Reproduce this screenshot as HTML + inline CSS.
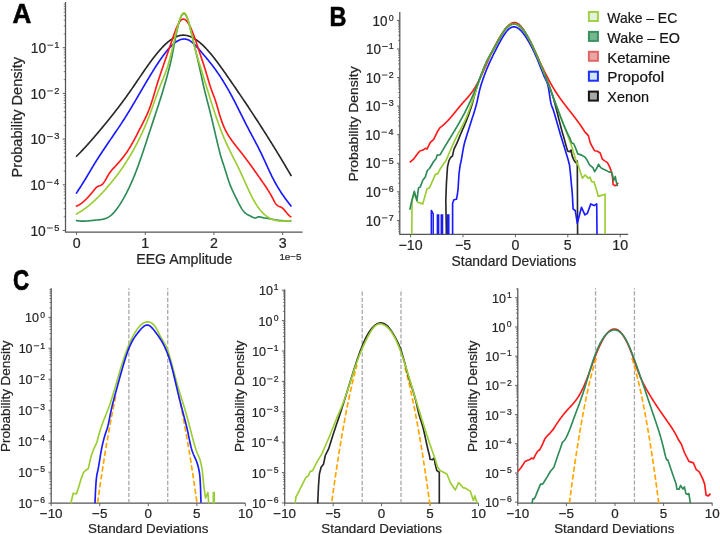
<!DOCTYPE html>
<html><head><meta charset="utf-8"><style>
html,body{margin:0;padding:0;background:#fff;}
svg{display:block;filter:blur(0.3px);}
text{font-family:"Liberation Sans", sans-serif;}
.t{stroke:#262626;stroke-width:0.22px;}
</style></head><body>
<svg width="720" height="534" viewBox="0 0 720 534">
<rect width="720" height="534" fill="#fff"/>
<path d="M65.50,2.00V232.00M64.90,232.00H302.60" stroke="#555555" stroke-width="1.25" fill="none"/>
<path d="M62.70,230.50H65.50M62.70,184.80H65.50M62.70,139.10H65.50M62.70,93.40H65.50M62.70,47.70H65.50" stroke="#555555" stroke-width="0.9" fill="none"/>
<path d="M63.70,216.74H65.50M63.70,208.70H65.50M63.70,202.99H65.50M63.70,198.56H65.50M63.70,194.94H65.50M63.70,191.88H65.50M63.70,189.23H65.50M63.70,186.89H65.50M63.70,171.04H65.50M63.70,163.00H65.50M63.70,157.29H65.50M63.70,152.86H65.50M63.70,149.24H65.50M63.70,146.18H65.50M63.70,143.53H65.50M63.70,141.19H65.50M63.70,125.34H65.50M63.70,117.30H65.50M63.70,111.59H65.50M63.70,107.16H65.50M63.70,103.54H65.50M63.70,100.48H65.50M63.70,97.83H65.50M63.70,95.49H65.50M63.70,79.64H65.50M63.70,71.60H65.50M63.70,65.89H65.50M63.70,61.46H65.50M63.70,57.84H65.50M63.70,54.78H65.50M63.70,52.13H65.50M63.70,49.79H65.50M63.70,33.94H65.50M63.70,25.90H65.50M63.70,20.19H65.50M63.70,15.76H65.50M63.70,12.14H65.50M63.70,9.08H65.50M63.70,6.43H65.50M63.70,4.09H65.50" stroke="#555555" stroke-width="0.7" fill="none"/>
<path d="M76.60,232.00V235.00M145.28,232.00V235.00M213.96,232.00V235.00M282.64,232.00V235.00" stroke="#555555" stroke-width="0.9" fill="none"/>
<g clip-path="url(#clipA)">
<path d="M76.00,156.75L76.50,156.26L77.00,155.77L77.50,155.27L78.00,154.77L78.50,154.27L79.00,153.76L79.50,153.25L80.00,152.74L80.50,152.22L81.00,151.70L81.50,151.18L82.00,150.66L82.50,150.13L83.00,149.60L83.50,149.06L84.00,148.52L84.50,147.99L85.00,147.44L85.50,146.90L86.00,146.35L86.50,145.80L87.00,145.25L87.50,144.69L88.00,144.14L88.50,143.58L89.00,143.02L89.50,142.45L90.00,141.89L90.50,141.32L91.00,140.75L91.50,140.18L92.00,139.60L92.50,139.03L93.00,138.45L93.50,137.88L94.00,137.30L94.50,136.71L95.00,136.13L95.50,135.55L96.00,134.96L96.50,134.37L97.00,133.79L97.50,133.20L98.00,132.61L98.50,132.02L99.00,131.42L99.50,130.83L100.00,130.24L100.50,129.64L101.00,129.04L101.50,128.45L102.00,127.85L102.50,127.25L103.00,126.65L103.50,126.04L104.00,125.44L104.50,124.83L105.00,124.23L105.50,123.62L106.00,123.01L106.50,122.40L107.00,121.79L107.50,121.17L108.00,120.56L108.50,119.94L109.00,119.32L109.50,118.70L110.00,118.08L110.50,117.46L111.00,116.83L111.50,116.21L112.00,115.58L112.50,114.95L113.00,114.31L113.50,113.68L114.00,113.04L114.50,112.41L115.00,111.77L115.50,111.12L116.00,110.48L116.50,109.83L117.00,109.19L117.50,108.54L118.00,107.88L118.50,107.23L119.00,106.57L119.50,105.91L120.00,105.25L120.50,104.59L121.00,103.92L121.50,103.26L122.00,102.58L122.50,101.91L123.00,101.24L123.50,100.56L124.00,99.88L124.50,99.19L125.00,98.51L125.50,97.82L126.00,97.13L126.50,96.44L127.00,95.74L127.50,95.04L128.00,94.34L128.50,93.64L129.00,92.93L129.50,92.22L130.00,91.51L130.50,90.79L131.00,90.07L131.50,89.35L132.00,88.63L132.50,87.90L133.00,87.17L133.50,86.44L134.00,85.71L134.50,84.98L135.00,84.25L135.50,83.51L136.00,82.77L136.50,82.04L137.00,81.30L137.50,80.56L138.00,79.83L138.50,79.09L139.00,78.35L139.50,77.61L140.00,76.88L140.50,76.14L141.00,75.40L141.50,74.67L142.00,73.94L142.50,73.20L143.00,72.47L143.50,71.75L144.00,71.02L144.50,70.30L145.00,69.57L145.50,68.86L146.00,68.14L146.50,67.42L147.00,66.71L147.50,66.01L148.00,65.30L148.50,64.60L149.00,63.90L149.50,63.21L150.00,62.52L150.50,61.84L151.00,61.16L151.50,60.48L152.00,59.81L152.50,59.15L153.00,58.49L153.50,57.83L154.00,57.18L154.50,56.54L155.00,55.90L155.50,55.27L156.00,54.64L156.50,54.02L157.00,53.41L157.50,52.81L158.00,52.21L158.50,51.62L159.00,51.03L159.50,50.46L160.00,49.89L160.50,49.33L161.00,48.77L161.50,48.23L162.00,47.69L162.50,47.16L163.00,46.65L163.50,46.14L164.00,45.64L164.50,45.14L165.00,44.66L165.50,44.19L166.00,43.73L166.50,43.28L167.00,42.83L167.50,42.40L168.00,41.98L168.50,41.57L169.00,41.17L169.50,40.78L170.00,40.41L170.50,40.04L171.00,39.69L171.50,39.35L172.00,39.02L172.50,38.70L173.00,38.39L173.50,38.10L174.00,37.82L174.50,37.56L175.00,37.30L175.50,37.06L176.00,36.83L176.50,36.62L177.00,36.42L177.50,36.24L178.00,36.06L178.50,35.91L179.00,35.77L179.50,35.64L180.00,35.53L180.50,35.43L181.00,35.35L181.50,35.28L182.00,35.23L182.50,35.19L183.00,35.17L183.50,35.17L184.00,35.18L184.50,35.21L185.00,35.25L185.50,35.30L186.00,35.38L186.50,35.46L187.00,35.56L187.50,35.68L188.00,35.81L188.50,35.95L189.00,36.11L189.50,36.28L190.00,36.46L190.50,36.66L191.00,36.87L191.50,37.09L192.00,37.33L192.50,37.58L193.00,37.84L193.50,38.11L194.00,38.40L194.50,38.69L195.00,39.00L195.50,39.32L196.00,39.66L196.50,40.00L197.00,40.35L197.50,40.72L198.00,41.10L198.50,41.48L199.00,41.88L199.50,42.29L200.00,42.71L200.50,43.13L201.00,43.57L201.50,44.02L202.00,44.48L202.50,44.94L203.00,45.42L203.50,45.90L204.00,46.40L204.50,46.90L205.00,47.41L205.50,47.93L206.00,48.45L206.50,48.99L207.00,49.53L207.50,50.08L208.00,50.64L208.50,51.20L209.00,51.77L209.50,52.35L210.00,52.94L210.50,53.53L211.00,54.13L211.50,54.74L212.00,55.35L212.50,55.96L213.00,56.59L213.50,57.22L214.00,57.85L214.50,58.49L215.00,59.13L215.50,59.78L216.00,60.44L216.50,61.10L217.00,61.76L217.50,62.43L218.00,63.10L218.50,63.78L219.00,64.46L219.50,65.14L220.00,65.83L220.50,66.52L221.00,67.21L221.50,67.91L222.00,68.61L222.50,69.31L223.00,70.01L223.50,70.72L224.00,71.43L224.50,72.14L225.00,72.85L225.50,73.57L226.00,74.28L226.50,75.00L227.00,75.72L227.50,76.44L228.00,77.16L228.50,77.88L229.00,78.60L229.50,79.32L230.00,80.04L230.50,80.77L231.00,81.49L231.50,82.21L232.00,82.94L232.50,83.67L233.00,84.39L233.50,85.12L234.00,85.85L234.50,86.58L235.00,87.31L235.50,88.04L236.00,88.77L236.50,89.50L237.00,90.23L237.50,90.97L238.00,91.70L238.50,92.44L239.00,93.17L239.50,93.91L240.00,94.65L240.50,95.39L241.00,96.13L241.50,96.87L242.00,97.61L242.50,98.35L243.00,99.09L243.50,99.84L244.00,100.58L244.50,101.33L245.00,102.07L245.50,102.82L246.00,103.57L246.50,104.32L247.00,105.07L247.50,105.82L248.00,106.57L248.50,107.32L249.00,108.07L249.50,108.83L250.00,109.58L250.50,110.34L251.00,111.10L251.50,111.86L252.00,112.62L252.50,113.38L253.00,114.14L253.50,114.90L254.00,115.66L254.50,116.43L255.00,117.19L255.50,117.96L256.00,118.73L256.50,119.50L257.00,120.27L257.50,121.04L258.00,121.81L258.50,122.58L259.00,123.35L259.50,124.13L260.00,124.91L260.50,125.68L261.00,126.46L261.50,127.24L262.00,128.02L262.50,128.80L263.00,129.59L263.50,130.37L264.00,131.16L264.50,131.94L265.00,132.73L265.50,133.52L266.00,134.31L266.50,135.10L267.00,135.89L267.50,136.68L268.00,137.48L268.50,138.28L269.00,139.07L269.50,139.87L270.00,140.67L270.50,141.47L271.00,142.27L271.50,143.08L272.00,143.88L272.50,144.69L273.00,145.49L273.50,146.30L274.00,147.11L274.50,147.92L275.00,148.74L275.50,149.55L276.00,150.37L276.50,151.18L277.00,152.00L277.50,152.82L278.00,153.64L278.50,154.46L279.00,155.28L279.50,156.11L280.00,156.93L280.50,157.76L281.00,158.59L281.50,159.42L282.00,160.25L282.50,161.09L283.00,161.92L283.50,162.76L284.00,163.59L284.50,164.43L285.00,165.27L285.50,166.11L286.00,166.96L286.50,167.80L287.00,168.65L287.50,169.49L288.00,170.34L288.50,171.19L289.00,172.05L289.50,172.90L290.00,173.75L290.50,174.61L291.00,175.47L291.40,176.16" stroke="#282828" stroke-width="1.65" fill="none" stroke-linejoin="round" stroke-linecap="butt" />
<path d="M76.10,193.65L76.60,192.88L77.10,192.11L77.60,191.34L78.10,190.57L78.60,189.80L79.10,189.03L79.60,188.26L80.10,187.48L80.60,186.70L81.10,185.92L81.60,185.14L82.10,184.35L82.60,183.56L83.10,182.77L83.60,181.96L84.10,181.16L84.60,180.35L85.10,179.53L85.60,178.71L86.10,177.88L86.60,177.05L87.10,176.21L87.60,175.37L88.10,174.53L88.60,173.69L89.10,172.85L89.60,172.00L90.10,171.16L90.60,170.31L91.10,169.47L91.60,168.63L92.10,167.79L92.60,166.95L93.10,166.12L93.60,165.29L94.10,164.47L94.60,163.65L95.10,162.84L95.60,162.03L96.10,161.23L96.60,160.43L97.10,159.64L97.60,158.85L98.10,158.07L98.60,157.29L99.10,156.51L99.60,155.74L100.10,154.97L100.60,154.20L101.10,153.44L101.60,152.68L102.10,151.93L102.60,151.17L103.10,150.42L103.60,149.67L104.10,148.93L104.60,148.19L105.10,147.44L105.60,146.70L106.10,145.97L106.60,145.23L107.10,144.50L107.60,143.76L108.10,143.03L108.60,142.30L109.10,141.57L109.60,140.84L110.10,140.11L110.60,139.38L111.10,138.65L111.60,137.92L112.10,137.19L112.60,136.46L113.10,135.73L113.60,135.00L114.10,134.27L114.60,133.54L115.10,132.80L115.60,132.07L116.10,131.33L116.60,130.60L117.10,129.86L117.60,129.12L118.10,128.37L118.60,127.63L119.10,126.88L119.60,126.13L120.10,125.38L120.60,124.62L121.10,123.86L121.60,123.10L122.10,122.34L122.60,121.57L123.10,120.80L123.60,120.02L124.10,119.24L124.60,118.46L125.10,117.67L125.60,116.88L126.10,116.08L126.60,115.28L127.10,114.47L127.60,113.66L128.10,112.85L128.60,112.03L129.10,111.21L129.60,110.39L130.10,109.56L130.60,108.73L131.10,107.90L131.60,107.07L132.10,106.23L132.60,105.39L133.10,104.54L133.60,103.70L134.10,102.85L134.60,102.00L135.10,101.15L135.60,100.30L136.10,99.45L136.60,98.59L137.10,97.74L137.60,96.88L138.10,96.03L138.60,95.17L139.10,94.31L139.60,93.45L140.10,92.60L140.60,91.74L141.10,90.88L141.60,90.02L142.10,89.17L142.60,88.31L143.10,87.45L143.60,86.60L144.10,85.75L144.60,84.90L145.10,84.05L145.60,83.20L146.10,82.35L146.60,81.51L147.10,80.66L147.60,79.82L148.10,78.99L148.60,78.15L149.10,77.32L149.60,76.49L150.10,75.66L150.60,74.84L151.10,74.02L151.60,73.20L152.10,72.39L152.60,71.58L153.10,70.78L153.60,69.98L154.10,69.18L154.60,68.39L155.10,67.60L155.60,66.82L156.10,66.05L156.60,65.27L157.10,64.51L157.60,63.75L158.10,62.99L158.60,62.24L159.10,61.50L159.60,60.76L160.10,60.03L160.60,59.30L161.10,58.58L161.60,57.87L162.10,57.17L162.60,56.47L163.10,55.78L163.60,55.10L164.10,54.43L164.60,53.76L165.10,53.11L165.60,52.46L166.10,51.83L166.60,51.20L167.10,50.59L167.60,49.99L168.10,49.40L168.60,48.82L169.10,48.25L169.60,47.70L170.10,47.16L170.60,46.64L171.10,46.12L171.60,45.63L172.10,45.15L172.60,44.68L173.10,44.23L173.60,43.79L174.10,43.37L174.60,42.97L175.10,42.58L175.60,42.21L176.10,41.86L176.60,41.53L177.10,41.22L177.60,40.93L178.10,40.65L178.60,40.40L179.10,40.16L179.60,39.95L180.10,39.76L180.60,39.58L181.10,39.43L181.60,39.31L182.10,39.20L182.60,39.12L183.10,39.06L183.60,39.03L184.10,39.02L184.60,39.03L185.10,39.07L185.60,39.13L186.10,39.22L186.60,39.34L187.10,39.48L187.60,39.65L188.10,39.85L188.60,40.07L189.10,40.32L189.60,40.60L190.10,40.90L190.60,41.23L191.10,41.57L191.60,41.94L192.10,42.33L192.60,42.74L193.10,43.17L193.60,43.62L194.10,44.08L194.60,44.56L195.10,45.06L195.60,45.56L196.10,46.08L196.60,46.62L197.10,47.16L197.60,47.71L198.10,48.27L198.60,48.84L199.10,49.41L199.60,49.99L200.10,50.58L200.60,51.16L201.10,51.75L201.60,52.34L202.10,52.93L202.60,53.53L203.10,54.12L203.60,54.71L204.10,55.30L204.60,55.89L205.10,56.49L205.60,57.08L206.10,57.68L206.60,58.28L207.10,58.88L207.60,59.48L208.10,60.09L208.60,60.70L209.10,61.32L209.60,61.93L210.10,62.56L210.60,63.18L211.10,63.82L211.60,64.45L212.10,65.10L212.60,65.75L213.10,66.40L213.60,67.06L214.10,67.73L214.60,68.41L215.10,69.09L215.60,69.78L216.10,70.48L216.60,71.19L217.10,71.90L217.60,72.62L218.10,73.35L218.60,74.09L219.10,74.83L219.60,75.58L220.10,76.34L220.60,77.10L221.10,77.88L221.60,78.66L222.10,79.44L222.60,80.24L223.10,81.04L223.60,81.85L224.10,82.67L224.60,83.49L225.10,84.32L225.60,85.16L226.10,86.00L226.60,86.85L227.10,87.71L227.60,88.58L228.10,89.45L228.60,90.33L229.10,91.22L229.60,92.12L230.10,93.02L230.60,93.93L231.10,94.84L231.60,95.76L232.10,96.69L232.60,97.63L233.10,98.57L233.60,99.52L234.10,100.48L234.60,101.44L235.10,102.41L235.60,103.38L236.10,104.36L236.60,105.35L237.10,106.34L237.60,107.33L238.10,108.32L238.60,109.32L239.10,110.32L239.60,111.32L240.10,112.32L240.60,113.33L241.10,114.33L241.60,115.34L242.10,116.34L242.60,117.35L243.10,118.35L243.60,119.35L244.10,120.35L244.60,121.34L245.10,122.34L245.60,123.32L246.10,124.31L246.60,125.29L247.10,126.27L247.60,127.24L248.10,128.20L248.60,129.16L249.10,130.12L249.60,131.07L250.10,132.02L250.60,132.96L251.10,133.90L251.60,134.84L252.10,135.77L252.60,136.71L253.10,137.65L253.60,138.58L254.10,139.52L254.60,140.46L255.10,141.41L255.60,142.36L256.10,143.31L256.60,144.26L257.10,145.22L257.60,146.19L258.10,147.17L258.60,148.15L259.10,149.14L259.60,150.14L260.10,151.14L260.60,152.16L261.10,153.19L261.60,154.23L262.10,155.28L262.60,156.35L263.10,157.42L263.60,158.50L264.10,159.58L264.60,160.67L265.10,161.77L265.60,162.86L266.10,163.96L266.60,165.06L267.10,166.16L267.60,167.25L268.10,168.34L268.60,169.43L269.10,170.51L269.60,171.58L270.10,172.64L270.60,173.69L271.10,174.73L271.60,175.76L272.10,176.77L272.60,177.76L273.10,178.74L273.60,179.70L274.10,180.65L274.60,181.58L275.10,182.50L275.60,183.40L276.10,184.28L276.60,185.15L277.10,186.01L277.60,186.86L278.10,187.69L278.60,188.51L279.10,189.31L279.60,190.11L280.10,190.89L280.60,191.67L281.10,192.43L281.60,193.18L282.10,193.93L282.60,194.66L283.10,195.39L283.60,196.10L284.10,196.81L284.60,197.51L285.10,198.21L285.60,198.90L286.10,199.58L286.60,200.25L287.10,200.92L287.60,201.59L288.10,202.25L288.60,202.91L289.10,203.56L289.60,204.22L290.10,204.87L290.60,205.52L291.10,206.17L291.40,206.56" stroke="#1a1aff" stroke-width="1.65" fill="none" stroke-linejoin="round" stroke-linecap="butt" />
<path d="M75.80,206.19L76.30,206.04L76.80,205.86L77.30,205.66L77.80,205.44L78.30,205.21L78.80,204.95L79.30,204.67L79.80,204.37L80.30,204.05L80.80,203.72L81.30,203.37L81.80,203.00L82.30,202.62L82.80,202.22L83.30,201.80L83.80,201.37L84.30,200.93L84.80,200.47L85.30,199.99L85.80,199.51L86.30,199.01L86.80,198.50L87.30,197.98L87.80,197.45L88.30,196.91L88.80,196.36L89.30,195.80L89.80,195.23L90.30,194.65L90.80,194.06L91.30,193.47L91.80,192.87L92.30,192.27L92.80,191.66L93.30,191.04L93.80,190.42L94.30,189.80L94.80,189.18L95.30,188.59L95.80,188.04L96.30,187.53L96.80,187.08L97.30,186.70L97.80,186.40L98.30,186.17L98.80,185.98L99.30,185.82L99.80,185.67L100.30,185.51L100.80,185.31L101.30,185.06L101.80,184.74L102.30,184.33L102.80,183.83L103.30,183.26L103.80,182.61L104.30,181.89L104.80,181.11L105.30,180.29L105.80,179.43L106.30,178.54L106.80,177.65L107.30,176.76L107.80,175.87L108.30,175.01L108.80,174.19L109.30,173.40L109.80,172.67L110.30,171.97L110.80,171.31L111.30,170.68L111.80,170.08L112.30,169.50L112.80,168.94L113.30,168.40L113.80,167.87L114.30,167.34L114.80,166.81L115.30,166.29L115.80,165.75L116.30,165.22L116.80,164.67L117.30,164.13L117.80,163.57L118.30,163.01L118.80,162.45L119.30,161.87L119.80,161.29L120.30,160.70L120.80,160.11L121.30,159.50L121.80,158.89L122.30,158.27L122.80,157.63L123.30,156.99L123.80,156.34L124.30,155.67L124.80,155.00L125.30,154.31L125.80,153.61L126.30,152.90L126.80,152.17L127.30,151.44L127.80,150.68L128.30,149.92L128.80,149.14L129.30,148.35L129.80,147.54L130.30,146.71L130.80,145.87L131.30,145.02L131.80,144.15L132.30,143.27L132.80,142.37L133.30,141.46L133.80,140.54L134.30,139.61L134.80,138.68L135.30,137.73L135.80,136.78L136.30,135.82L136.80,134.85L137.30,133.88L137.80,132.91L138.30,131.93L138.80,130.95L139.30,129.97L139.80,128.99L140.30,128.01L140.80,127.03L141.30,126.05L141.80,125.08L142.30,124.11L142.80,123.14L143.30,122.16L143.80,121.17L144.30,120.18L144.80,119.17L145.30,118.14L145.80,117.10L146.30,116.03L146.80,114.93L147.30,113.80L147.80,112.65L148.30,111.45L148.80,110.22L149.30,108.95L149.80,107.63L150.30,106.26L150.80,104.84L151.30,103.36L151.80,101.83L152.30,100.25L152.80,98.62L153.30,96.96L153.80,95.27L154.30,93.57L154.80,91.86L155.30,90.16L155.80,88.47L156.30,86.80L156.80,85.17L157.30,83.56L157.80,81.99L158.30,80.43L158.80,78.91L159.30,77.40L159.80,75.91L160.30,74.43L160.80,72.96L161.30,71.50L161.80,70.04L162.30,68.58L162.80,67.13L163.30,65.67L163.80,64.21L164.30,62.76L164.80,61.30L165.30,59.84L165.80,58.39L166.30,56.93L166.80,55.47L167.30,54.02L167.80,52.56L168.30,51.11L168.80,49.65L169.30,48.19L169.80,46.74L170.30,45.29L170.80,43.83L171.30,42.38L171.80,40.93L172.30,39.47L172.80,38.02L173.30,36.58L173.80,35.14L174.30,33.73L174.80,32.34L175.30,30.98L175.80,29.67L176.30,28.40L176.80,27.19L177.30,26.04L177.80,24.96L178.30,23.96L178.80,23.04L179.30,22.21L179.80,21.48L180.30,20.85L180.80,20.33L181.30,19.90L181.80,19.57L182.30,19.33L182.80,19.19L183.30,19.14L183.80,19.18L184.30,19.31L184.80,19.52L185.30,19.81L185.80,20.19L186.30,20.64L186.80,21.18L187.30,21.79L187.80,22.47L188.30,23.22L188.80,24.04L189.30,24.93L189.80,25.88L190.30,26.89L190.80,27.95L191.30,29.07L191.80,30.24L192.30,31.45L192.80,32.70L193.30,34.00L193.80,35.33L194.30,36.70L194.80,38.09L195.30,39.51L195.80,40.96L196.30,42.42L196.80,43.91L197.30,45.40L197.80,46.91L198.30,48.43L198.80,49.95L199.30,51.47L199.80,52.99L200.30,54.50L200.80,56.01L201.30,57.50L201.80,59.00L202.30,60.50L202.80,62.01L203.30,63.53L203.80,65.07L204.30,66.63L204.80,68.23L205.30,69.85L205.80,71.51L206.30,73.19L206.80,74.88L207.30,76.58L207.80,78.28L208.30,79.96L208.80,81.63L209.30,83.28L209.80,84.89L210.30,86.45L210.80,87.97L211.30,89.43L211.80,90.82L212.30,92.16L212.80,93.46L213.30,94.74L213.80,96.04L214.30,97.36L214.80,98.74L215.30,100.18L215.80,101.72L216.30,103.33L216.80,105.00L217.30,106.72L217.80,108.47L218.30,110.22L218.80,111.97L219.30,113.70L219.80,115.39L220.30,117.02L220.80,118.58L221.30,120.07L221.80,121.50L222.30,122.86L222.80,124.16L223.30,125.40L223.80,126.58L224.30,127.72L224.80,128.80L225.30,129.84L225.80,130.84L226.30,131.79L226.80,132.71L227.30,133.59L227.80,134.45L228.30,135.27L228.80,136.07L229.30,136.84L229.80,137.60L230.30,138.33L230.80,139.06L231.30,139.77L231.80,140.47L232.30,141.16L232.80,141.84L233.30,142.51L233.80,143.17L234.30,143.83L234.80,144.48L235.30,145.12L235.80,145.76L236.30,146.39L236.80,147.03L237.30,147.65L237.80,148.28L238.30,148.91L238.80,149.53L239.30,150.16L239.80,150.78L240.30,151.41L240.80,152.05L241.30,152.68L241.80,153.32L242.30,153.97L242.80,154.61L243.30,155.26L243.80,155.91L244.30,156.57L244.80,157.23L245.30,157.89L245.80,158.56L246.30,159.22L246.80,159.89L247.30,160.57L247.80,161.24L248.30,161.92L248.80,162.60L249.30,163.29L249.80,163.97L250.30,164.66L250.80,165.35L251.30,166.04L251.80,166.73L252.30,167.43L252.80,168.13L253.30,168.83L253.80,169.53L254.30,170.23L254.80,170.94L255.30,171.65L255.80,172.36L256.30,173.06L256.80,173.78L257.30,174.49L257.80,175.20L258.30,175.92L258.80,176.63L259.30,177.35L259.80,178.07L260.30,178.79L260.80,179.51L261.30,180.23L261.80,180.95L262.30,181.67L262.80,182.39L263.30,183.12L263.80,183.84L264.30,184.57L264.80,185.30L265.30,186.04L265.80,186.78L266.30,187.53L266.80,188.29L267.30,189.06L267.80,189.83L268.30,190.62L268.80,191.42L269.30,192.23L269.80,193.06L270.30,193.90L270.80,194.75L271.30,195.64L271.80,196.55L272.30,197.49L272.80,198.47L273.30,199.47L273.80,200.46L274.30,201.42L274.80,202.32L275.30,203.12L275.80,203.82L276.30,204.40L276.80,204.90L277.30,205.32L277.80,205.67L278.30,205.96L278.80,206.22L279.30,206.45L279.80,206.66L280.30,206.88L280.80,207.11L281.30,207.36L281.80,207.65L282.30,208.00L282.80,208.40L283.30,208.87L283.80,209.38L284.30,209.93L284.80,210.50L285.30,211.11L285.80,211.72L286.30,212.34L286.80,212.95L287.30,213.56L287.80,214.14L288.30,214.69L288.80,215.20L289.30,215.67L289.80,216.08L290.30,216.43L290.80,216.70L291.30,216.89L291.40,216.92" stroke="#ff1a1a" stroke-width="1.65" fill="none" stroke-linejoin="round" stroke-linecap="butt" />
<path d="M75.80,220.43L76.30,220.54L76.80,220.63L77.30,220.72L77.80,220.80L78.30,220.86L78.80,220.92L79.30,220.98L79.80,221.02L80.30,221.06L80.80,221.09L81.30,221.11L81.80,221.13L82.30,221.14L82.80,221.14L83.30,221.14L83.80,221.13L84.30,221.12L84.80,221.11L85.30,221.08L85.80,221.06L86.30,221.03L86.80,221.00L87.30,220.96L87.80,220.92L88.30,220.88L88.80,220.83L89.30,220.78L89.80,220.73L90.30,220.68L90.80,220.63L91.30,220.58L91.80,220.52L92.30,220.47L92.80,220.42L93.30,220.36L93.80,220.31L94.30,220.25L94.80,220.20L95.30,220.15L95.80,220.10L96.30,220.05L96.80,220.01L97.30,219.96L97.80,219.92L98.30,219.87L98.80,219.82L99.30,219.77L99.80,219.72L100.30,219.66L100.80,219.59L101.30,219.52L101.80,219.44L102.30,219.35L102.80,219.25L103.30,219.14L103.80,219.01L104.30,218.88L104.80,218.73L105.30,218.56L105.80,218.38L106.30,218.18L106.80,217.97L107.30,217.74L107.80,217.48L108.30,217.21L108.80,216.91L109.30,216.59L109.80,216.25L110.30,215.88L110.80,215.49L111.30,215.07L111.80,214.63L112.30,214.16L112.80,213.67L113.30,213.16L113.80,212.62L114.30,212.07L114.80,211.49L115.30,210.89L115.80,210.27L116.30,209.63L116.80,208.97L117.30,208.29L117.80,207.59L118.30,206.87L118.80,206.14L119.30,205.39L119.80,204.62L120.30,203.84L120.80,203.04L121.30,202.23L121.80,201.40L122.30,200.56L122.80,199.70L123.30,198.83L123.80,197.95L124.30,197.05L124.80,196.14L125.30,195.21L125.80,194.27L126.30,193.31L126.80,192.34L127.30,191.35L127.80,190.35L128.30,189.33L128.80,188.30L129.30,187.25L129.80,186.18L130.30,185.10L130.80,184.00L131.30,182.89L131.80,181.75L132.30,180.60L132.80,179.44L133.30,178.25L133.80,177.05L134.30,175.83L134.80,174.59L135.30,173.34L135.80,172.06L136.30,170.77L136.80,169.46L137.30,168.13L137.80,166.78L138.30,165.42L138.80,164.03L139.30,162.64L139.80,161.22L140.30,159.80L140.80,158.35L141.30,156.90L141.80,155.44L142.30,153.96L142.80,152.48L143.30,150.99L143.80,149.49L144.30,147.98L144.80,146.47L145.30,144.95L145.80,143.43L146.30,141.90L146.80,140.37L147.30,138.84L147.80,137.31L148.30,135.78L148.80,134.25L149.30,132.72L149.80,131.20L150.30,129.68L150.80,128.16L151.30,126.65L151.80,125.14L152.30,123.63L152.80,122.13L153.30,120.63L153.80,119.12L154.30,117.62L154.80,116.12L155.30,114.61L155.80,113.10L156.30,111.58L156.80,110.06L157.30,108.53L157.80,107.00L158.30,105.46L158.80,103.91L159.30,102.35L159.80,100.78L160.30,99.20L160.80,97.61L161.30,96.01L161.80,94.39L162.30,92.75L162.80,91.10L163.30,89.44L163.80,87.76L164.30,86.05L164.80,84.33L165.30,82.59L165.80,80.83L166.30,79.04L166.80,77.23L167.30,75.39L167.80,73.52L168.30,71.63L168.80,69.71L169.30,67.76L169.80,65.77L170.30,63.71L170.80,61.57L171.30,59.33L171.80,56.97L172.30,54.50L172.80,51.95L173.30,49.31L173.80,46.62L174.30,43.92L174.80,41.25L175.30,38.65L175.80,36.14L176.30,33.73L176.80,31.41L177.30,29.20L177.80,27.09L178.30,25.10L178.80,23.23L179.30,21.50L179.80,19.91L180.30,18.48L180.80,17.22L181.30,16.14L181.80,15.25L182.30,14.55L182.80,14.04L183.30,13.72L183.80,13.59L184.30,13.66L184.80,13.91L185.30,14.36L185.80,15.01L186.30,15.84L186.80,16.87L187.30,18.10L187.80,19.50L188.30,21.05L188.80,22.75L189.30,24.56L189.80,26.48L190.30,28.48L190.80,30.54L191.30,32.65L191.80,34.78L192.30,36.92L192.80,39.04L193.30,41.15L193.80,43.25L194.30,45.33L194.80,47.41L195.30,49.49L195.80,51.57L196.30,53.66L196.80,55.76L197.30,57.87L197.80,60.00L198.30,62.15L198.80,64.33L199.30,66.55L199.80,68.79L200.30,71.06L200.80,73.35L201.30,75.65L201.80,77.95L202.30,80.24L202.80,82.51L203.30,84.75L203.80,86.95L204.30,89.11L204.80,91.21L205.30,93.26L205.80,95.26L206.30,97.22L206.80,99.16L207.30,101.08L207.80,102.99L208.30,104.90L208.80,106.82L209.30,108.76L209.80,110.73L210.30,112.73L210.80,114.76L211.30,116.82L211.80,118.89L212.30,120.99L212.80,123.10L213.30,125.23L213.80,127.37L214.30,129.51L214.80,131.66L215.30,133.82L215.80,135.97L216.30,138.13L216.80,140.27L217.30,142.41L217.80,144.52L218.30,146.60L218.80,148.64L219.30,150.63L219.80,152.57L220.30,154.43L220.80,156.22L221.30,157.92L221.80,159.55L222.30,161.11L222.80,162.63L223.30,164.12L223.80,165.61L224.30,167.11L224.80,168.65L225.30,170.22L225.80,171.83L226.30,173.45L226.80,175.08L227.30,176.69L227.80,178.27L228.30,179.80L228.80,181.27L229.30,182.68L229.80,184.03L230.30,185.33L230.80,186.58L231.30,187.78L231.80,188.95L232.30,190.08L232.80,191.18L233.30,192.26L233.80,193.31L234.30,194.35L234.80,195.38L235.30,196.40L235.80,197.42L236.30,198.44L236.80,199.46L237.30,200.48L237.80,201.50L238.30,202.50L238.80,203.50L239.30,204.47L239.80,205.41L240.30,206.33L240.80,207.21L241.30,208.06L241.80,208.86L242.30,209.61L242.80,210.32L243.30,210.96L243.80,211.55L244.30,212.08L244.80,212.57L245.30,213.01L245.80,213.41L246.30,213.78L246.80,214.12L247.30,214.43L247.80,214.71L248.30,214.99L248.80,215.24L249.30,215.49L249.80,215.74L250.30,215.99L250.80,216.24L251.30,216.51L251.80,216.78L252.30,217.05L252.80,217.31L253.30,217.54L253.80,217.74L254.30,217.88L254.80,217.97L255.30,217.98L255.80,217.90L256.30,217.74L256.80,217.52L257.30,217.29L257.80,217.08L258.30,216.93L258.80,216.85L259.30,216.84L259.80,216.88L260.30,216.96L260.80,217.08L261.30,217.22L261.80,217.37L262.30,217.51L262.80,217.65L263.30,217.77L263.80,217.87L264.30,217.95L264.80,218.03L265.30,218.09L265.80,218.15L266.30,218.21L266.80,218.27L267.30,218.34L267.80,218.41L268.30,218.49L268.80,218.58L269.30,218.67L269.80,218.76L270.30,218.86L270.80,218.96L271.30,219.06L271.80,219.16L272.30,219.26L272.80,219.37L273.30,219.47L273.80,219.57L274.30,219.66L274.80,219.75L275.30,219.84L275.80,219.93L276.30,220.01L276.80,220.08L277.30,220.15L277.80,220.22L278.30,220.29L278.80,220.34L279.30,220.40L279.80,220.45L280.30,220.50L280.80,220.55L281.30,220.59L281.80,220.62L282.30,220.66L282.80,220.69L283.30,220.72L283.80,220.74L284.30,220.76L284.80,220.78L285.30,220.80L285.80,220.81L286.30,220.82L286.80,220.83L287.30,220.84L287.80,220.84L288.30,220.84L288.80,220.84L289.30,220.83L289.80,220.83L290.30,220.82L290.80,220.81L291.30,220.80L291.40,220.79" stroke="#2e8b57" stroke-width="1.65" fill="none" stroke-linejoin="round" stroke-linecap="butt" />
<path d="M75.80,214.23L76.30,213.98L76.80,213.71L77.30,213.44L77.80,213.17L78.30,212.89L78.80,212.60L79.30,212.31L79.80,212.01L80.30,211.70L80.80,211.39L81.30,211.07L81.80,210.75L82.30,210.42L82.80,210.08L83.30,209.74L83.80,209.39L84.30,209.04L84.80,208.68L85.30,208.32L85.80,207.95L86.30,207.57L86.80,207.19L87.30,206.81L87.80,206.42L88.30,206.02L88.80,205.62L89.30,205.21L89.80,204.79L90.30,204.38L90.80,203.95L91.30,203.52L91.80,203.09L92.30,202.65L92.80,202.20L93.30,201.75L93.80,201.30L94.30,200.84L94.80,200.37L95.30,199.90L95.80,199.43L96.30,198.95L96.80,198.47L97.30,197.98L97.80,197.48L98.30,196.98L98.80,196.48L99.30,195.97L99.80,195.46L100.30,194.94L100.80,194.42L101.30,193.89L101.80,193.36L102.30,192.82L102.80,192.28L103.30,191.74L103.80,191.19L104.30,190.64L104.80,190.08L105.30,189.52L105.80,188.95L106.30,188.38L106.80,187.81L107.30,187.23L107.80,186.65L108.30,186.06L108.80,185.47L109.30,184.87L109.80,184.27L110.30,183.67L110.80,183.06L111.30,182.45L111.80,181.84L112.30,181.22L112.80,180.60L113.30,179.97L113.80,179.34L114.30,178.71L114.80,178.07L115.30,177.43L115.80,176.78L116.30,176.13L116.80,175.48L117.30,174.82L117.80,174.15L118.30,173.48L118.80,172.80L119.30,172.12L119.80,171.43L120.30,170.74L120.80,170.04L121.30,169.33L121.80,168.62L122.30,167.91L122.80,167.18L123.30,166.45L123.80,165.71L124.30,164.97L124.80,164.22L125.30,163.46L125.80,162.70L126.30,161.92L126.80,161.14L127.30,160.36L127.80,159.56L128.30,158.76L128.80,157.95L129.30,157.13L129.80,156.30L130.30,155.46L130.80,154.62L131.30,153.76L131.80,152.90L132.30,152.03L132.80,151.15L133.30,150.26L133.80,149.36L134.30,148.45L134.80,147.53L135.30,146.60L135.80,145.66L136.30,144.71L136.80,143.75L137.30,142.78L137.80,141.80L138.30,140.81L138.80,139.81L139.30,138.80L139.80,137.77L140.30,136.74L140.80,135.69L141.30,134.63L141.80,133.55L142.30,132.47L142.80,131.37L143.30,130.26L143.80,129.13L144.30,127.99L144.80,126.83L145.30,125.66L145.80,124.48L146.30,123.28L146.80,122.06L147.30,120.83L147.80,119.58L148.30,118.32L148.80,117.04L149.30,115.74L149.80,114.42L150.30,113.09L150.80,111.74L151.30,110.37L151.80,108.98L152.30,107.58L152.80,106.15L153.30,104.72L153.80,103.28L154.30,101.84L154.80,100.40L155.30,98.96L155.80,97.53L156.30,96.11L156.80,94.71L157.30,93.32L157.80,91.95L158.30,90.61L158.80,89.28L159.30,87.98L159.80,86.71L160.30,85.46L160.80,84.23L161.30,83.02L161.80,81.82L162.30,80.62L162.80,79.42L163.30,78.21L163.80,76.98L164.30,75.73L164.80,74.46L165.30,73.15L165.80,71.80L166.30,70.41L166.80,68.97L167.30,67.46L167.80,65.89L168.30,64.25L168.80,62.54L169.30,60.75L169.80,58.90L170.30,56.98L170.80,55.01L171.30,52.98L171.80,50.92L172.30,48.81L172.80,46.68L173.30,44.54L173.80,42.38L174.30,40.23L174.80,38.08L175.30,35.96L175.80,33.87L176.30,31.82L176.80,29.82L177.30,27.88L177.80,26.01L178.30,24.22L178.80,22.52L179.30,20.91L179.80,19.42L180.30,18.04L180.80,16.79L181.30,15.68L181.80,14.73L182.30,13.95L182.80,13.36L183.30,12.98L183.80,12.82L184.30,12.89L184.80,13.18L185.30,13.69L185.80,14.41L186.30,15.33L186.80,16.45L187.30,17.74L187.80,19.21L188.30,20.83L188.80,22.58L189.30,24.44L189.80,26.39L190.30,28.40L190.80,30.47L191.30,32.58L191.80,34.71L192.30,36.85L192.80,39.00L193.30,41.14L193.80,43.26L194.30,45.35L194.80,47.39L195.30,49.38L195.80,51.30L196.30,53.15L196.80,54.92L197.30,56.63L197.80,58.29L198.30,59.93L198.80,61.55L199.30,63.17L199.80,64.79L200.30,66.42L200.80,68.05L201.30,69.68L201.80,71.32L202.30,72.96L202.80,74.61L203.30,76.25L203.80,77.89L204.30,79.54L204.80,81.18L205.30,82.82L205.80,84.46L206.30,86.10L206.80,87.73L207.30,89.36L207.80,90.99L208.30,92.61L208.80,94.23L209.30,95.84L209.80,97.45L210.30,99.04L210.80,100.63L211.30,102.22L211.80,103.79L212.30,105.35L212.80,106.91L213.30,108.45L213.80,109.98L214.30,111.50L214.80,113.01L215.30,114.51L215.80,115.99L216.30,117.46L216.80,118.91L217.30,120.35L217.80,121.78L218.30,123.18L218.80,124.57L219.30,125.95L219.80,127.30L220.30,128.64L220.80,129.95L221.30,131.25L221.80,132.53L222.30,133.78L222.80,135.02L223.30,136.23L223.80,137.42L224.30,138.60L224.80,139.75L225.30,140.89L225.80,142.01L226.30,143.12L226.80,144.21L227.30,145.29L227.80,146.36L228.30,147.41L228.80,148.46L229.30,149.49L229.80,150.51L230.30,151.53L230.80,152.54L231.30,153.55L231.80,154.55L232.30,155.54L232.80,156.54L233.30,157.53L233.80,158.52L234.30,159.51L234.80,160.50L235.30,161.49L235.80,162.48L236.30,163.48L236.80,164.48L237.30,165.49L237.80,166.51L238.30,167.53L238.80,168.56L239.30,169.60L239.80,170.65L240.30,171.71L240.80,172.79L241.30,173.87L241.80,174.96L242.30,176.06L242.80,177.16L243.30,178.27L243.80,179.38L244.30,180.49L244.80,181.61L245.30,182.72L245.80,183.83L246.30,184.94L246.80,186.05L247.30,187.15L247.80,188.24L248.30,189.33L248.80,190.40L249.30,191.47L249.80,192.52L250.30,193.56L250.80,194.59L251.30,195.60L251.80,196.59L252.30,197.57L252.80,198.52L253.30,199.46L253.80,200.37L254.30,201.26L254.80,202.13L255.30,202.97L255.80,203.79L256.30,204.59L256.80,205.36L257.30,206.10L257.80,206.83L258.30,207.53L258.80,208.21L259.30,208.86L259.80,209.50L260.30,210.11L260.80,210.71L261.30,211.28L261.80,211.83L262.30,212.36L262.80,212.88L263.30,213.37L263.80,213.84L264.30,214.30L264.80,214.74L265.30,215.16L265.80,215.56L266.30,215.94L266.80,216.31L267.30,216.66L267.80,217.00L268.30,217.32L268.80,217.62L269.30,217.91L269.80,218.18L270.30,218.44L270.80,218.68L271.30,218.91L271.80,219.13L272.30,219.33L272.80,219.52L273.30,219.70L273.80,219.86L274.30,220.02L274.80,220.16L275.30,220.29L275.80,220.41L276.30,220.52L276.80,220.62L277.30,220.70L277.80,220.78L278.30,220.85L278.80,220.91L279.30,220.97L279.80,221.01L280.30,221.04L280.80,221.07L281.30,221.09L281.80,221.11L282.30,221.11L282.80,221.12L283.30,221.11L283.80,221.10L284.30,221.08L284.80,221.06L285.30,221.04L285.80,221.01L286.30,220.97L286.80,220.94L287.30,220.90L287.80,220.85L288.30,220.81L288.80,220.76L289.30,220.71L289.80,220.65L290.30,220.60L290.80,220.55L291.30,220.49L291.40,220.48" stroke="#9acd32" stroke-width="1.65" fill="none" stroke-linejoin="round" stroke-linecap="butt" />
</g>
<text class="t" x="54.28" y="47.95" font-size="9.3" fill="#262626">1</text>
<path d="M47.43,45.20H53.19" stroke="#262626" stroke-width="0.9"/>
<text class="t" x="30.83" y="53.03" font-size="14.4" fill="#262626" textLength="15.38" lengthAdjust="spacingAndGlyphs">10</text>
<text class="t" x="54.29" y="93.65" font-size="9.3" fill="#262626">2</text>
<path d="M47.19,90.90H52.96" stroke="#262626" stroke-width="0.9"/>
<text class="t" x="30.60" y="98.73" font-size="14.4" fill="#262626" textLength="15.38" lengthAdjust="spacingAndGlyphs">10</text>
<text class="t" x="54.24" y="139.35" font-size="9.3" fill="#262626">3</text>
<path d="M47.03,136.60H52.79" stroke="#262626" stroke-width="0.9"/>
<text class="t" x="30.43" y="144.43" font-size="14.4" fill="#262626" textLength="15.38" lengthAdjust="spacingAndGlyphs">10</text>
<text class="t" x="54.10" y="185.05" font-size="9.3" fill="#262626">4</text>
<path d="M46.75,182.30H52.51" stroke="#262626" stroke-width="0.9"/>
<text class="t" x="30.15" y="190.13" font-size="14.4" fill="#262626" textLength="15.38" lengthAdjust="spacingAndGlyphs">10</text>
<text class="t" x="54.22" y="230.75" font-size="9.3" fill="#262626">5</text>
<path d="M47.03,228.00H52.79" stroke="#262626" stroke-width="0.9"/>
<text class="t" x="30.43" y="235.83" font-size="14.4" fill="#262626" textLength="15.38" lengthAdjust="spacingAndGlyphs">10</text>
<text class="t" x="76.60" y="248.00" font-size="14.2" text-anchor="middle" fill="#262626">0</text>
<text class="t" x="145.28" y="248.00" font-size="14.2" text-anchor="middle" fill="#262626">1</text>
<text class="t" x="213.96" y="248.00" font-size="14.2" text-anchor="middle" fill="#262626">2</text>
<text class="t" x="282.64" y="248.00" font-size="14.2" text-anchor="middle" fill="#262626">3</text>
<text class="t" x="184.30" y="263.80" font-size="14.2" text-anchor="middle" font-weight="normal" fill="#262626" >EEG Amplitude</text>
<text class="t" x="279.40" y="259.80" font-size="9.8" text-anchor="start" font-weight="normal" fill="#262626" >1e−5</text>
<text class="t" x="0.00" y="0.00" font-size="14.2" text-anchor="middle" font-weight="normal" fill="#262626" transform="translate(21.5,117.15) rotate(-90)" textLength="120.5" lengthAdjust="spacingAndGlyphs">Probability Density</text>
<text x="0.00" y="0.00" font-size="27.7" text-anchor="start" font-weight="bold" fill="#000" transform="translate(12.5,22.7) scale(0.94,1)" stroke="#000" stroke-width="0.6">A</text>
<path d="M399.80,11.90V234.30M399.20,234.30H628.20" stroke="#555555" stroke-width="1.25" fill="none"/>
<path d="M397.00,220.39H399.80M397.00,191.82H399.80M397.00,163.25H399.80M397.00,134.68H399.80M397.00,106.11H399.80M397.00,77.54H399.80M397.00,48.97H399.80M397.00,20.40H399.80" stroke="#555555" stroke-width="0.9" fill="none"/>
<path d="M398.00,231.76H399.80M398.00,228.99H399.80M398.00,226.73H399.80M398.00,224.82H399.80M398.00,223.16H399.80M398.00,221.70H399.80M398.00,211.79H399.80M398.00,206.76H399.80M398.00,203.19H399.80M398.00,200.42H399.80M398.00,198.16H399.80M398.00,196.25H399.80M398.00,194.59H399.80M398.00,193.13H399.80M398.00,183.22H399.80M398.00,178.19H399.80M398.00,174.62H399.80M398.00,171.85H399.80M398.00,169.59H399.80M398.00,167.68H399.80M398.00,166.02H399.80M398.00,164.56H399.80M398.00,154.65H399.80M398.00,149.62H399.80M398.00,146.05H399.80M398.00,143.28H399.80M398.00,141.02H399.80M398.00,139.11H399.80M398.00,137.45H399.80M398.00,135.99H399.80M398.00,126.08H399.80M398.00,121.05H399.80M398.00,117.48H399.80M398.00,114.71H399.80M398.00,112.45H399.80M398.00,110.54H399.80M398.00,108.88H399.80M398.00,107.42H399.80M398.00,97.51H399.80M398.00,92.48H399.80M398.00,88.91H399.80M398.00,86.14H399.80M398.00,83.88H399.80M398.00,81.97H399.80M398.00,80.31H399.80M398.00,78.85H399.80M398.00,68.94H399.80M398.00,63.91H399.80M398.00,60.34H399.80M398.00,57.57H399.80M398.00,55.31H399.80M398.00,53.40H399.80M398.00,51.74H399.80M398.00,50.28H399.80M398.00,40.37H399.80M398.00,35.34H399.80M398.00,31.77H399.80M398.00,29.00H399.80M398.00,26.74H399.80M398.00,24.83H399.80M398.00,23.17H399.80M398.00,21.71H399.80" stroke="#555555" stroke-width="0.7" fill="none"/>
<path d="M410.60,234.30V237.30M463.00,234.30V237.30M515.40,234.30V237.30M567.80,234.30V237.30M620.20,234.30V237.30" stroke="#555555" stroke-width="0.9" fill="none"/>
<g clip-path="url(#clipB)">
<path d="M446.40,234.50L445.80,200.60L446.40,183.70L447.50,166.90L448.90,160.90L450.60,157.50L452.40,156.20L454.00,149.17L454.50,148.15L455.00,147.12L455.50,146.09L456.00,145.04L456.50,143.97L457.00,142.87L457.50,141.75L458.00,140.58L458.50,139.38L459.00,138.15L459.50,136.92L460.00,135.68L460.50,134.46L461.00,133.26L461.50,132.08L462.00,130.92L462.50,129.76L463.00,128.61L463.50,127.46L464.00,126.30L464.50,125.14L465.00,123.97L465.50,122.79L466.00,121.58L466.50,120.36L467.00,119.10L467.50,117.82L468.00,116.51L468.50,115.15L469.00,113.77L469.50,112.34L470.00,110.86L470.50,109.34L471.00,107.78L471.50,106.16L472.00,104.49L472.50,102.77L473.00,100.98L473.50,99.14L474.00,97.26L474.50,95.37L475.00,93.50L475.50,91.67L476.00,89.92L476.50,88.26L477.00,86.70L477.50,85.21L478.00,83.78L478.50,82.40L479.00,81.05L479.50,79.72L480.00,78.39L480.50,77.05L481.00,75.71L481.50,74.37L482.00,73.04L482.50,71.71L483.00,70.41L483.50,69.11L484.00,67.84L484.50,66.60L485.00,65.39L485.50,64.20L486.00,63.06L486.50,61.96L487.00,60.91L487.50,59.90L488.00,58.95L488.50,58.04L489.00,57.16L489.50,56.31L490.00,55.48L490.50,54.67L491.00,53.86L491.50,53.06L492.00,52.24L492.50,51.41L493.00,50.56L493.50,49.70L494.00,48.81L494.50,47.91L495.00,47.00L495.50,46.08L496.00,45.15L496.50,44.21L497.00,43.27L497.50,42.33L498.00,41.39L498.50,40.45L499.00,39.51L499.50,38.59L500.00,37.67L500.50,36.76L501.00,35.87L501.50,34.99L502.00,34.14L502.50,33.30L503.00,32.48L503.50,31.69L504.00,30.93L504.50,30.20L505.00,29.49L505.50,28.82L506.00,28.19L506.50,27.60L507.00,27.04L507.50,26.53L508.00,26.06L508.50,25.64L509.00,25.25L509.50,24.92L510.00,24.62L510.50,24.37L511.00,24.15L511.50,23.98L512.00,23.85L512.50,23.76L513.00,23.70L513.50,23.69L514.00,23.71L514.50,23.77L515.00,23.87L515.50,24.00L516.00,24.17L516.50,24.37L517.00,24.61L517.50,24.88L518.00,25.19L518.50,25.53L519.00,25.90L519.50,26.30L520.00,26.73L520.50,27.19L521.00,27.69L521.50,28.21L522.00,28.76L522.50,29.34L523.00,29.95L523.50,30.58L524.00,31.24L524.50,31.93L525.00,32.64L525.50,33.38L526.00,34.14L526.50,34.92L527.00,35.73L527.50,36.56L528.00,37.41L528.50,38.29L529.00,39.18L529.50,40.10L530.00,41.03L530.50,41.99L531.00,42.96L531.50,43.95L532.00,44.96L532.50,45.98L533.00,47.02L533.50,48.08L534.00,49.15L534.50,50.24L535.00,51.34L535.50,52.46L536.00,53.58L536.50,54.72L537.00,55.88L537.50,57.04L538.00,58.21L538.50,59.40L539.00,60.59L539.50,61.79L540.00,63.00L540.50,64.22L541.00,65.44L541.50,66.67L542.00,67.91L542.50,69.14L543.00,70.38L543.50,71.62L544.00,72.87L544.50,74.11L545.00,75.35L545.50,76.59L546.00,77.83L546.50,79.06L547.00,80.30L547.50,81.53L548.00,82.78L548.50,84.04L549.00,85.32L549.50,86.63L550.00,87.96L550.50,89.33L551.00,90.75L551.50,92.21L552.00,93.72L552.50,95.29L553.00,96.92L553.50,98.62L554.00,100.37L554.50,102.18L555.00,104.03L555.50,105.92L556.00,107.84L556.50,109.78L557.00,111.75L557.50,113.73L558.00,115.72L558.50,117.71L559.00,119.70L559.50,121.67L560.00,123.63L560.50,125.56L561.00,127.47L561.50,129.34L562.00,131.16L562.50,132.94L563.00,134.67L563.50,136.33L563.70,136.98L566.50,147.20L567.70,151.10L569.90,151.70L571.00,150.00L572.20,156.20L573.90,160.10L575.60,162.60L577.30,161.00L577.60,234.50" stroke="#282828" stroke-width="1.65" fill="none" stroke-linejoin="round" stroke-linecap="butt" />
<path d="M452.60,234.50L452.60,203.60L453.90,199.70L456.40,199.30L457.30,195.00L458.10,188.80L459.00,173.60L460.20,164.99L460.70,163.02L461.20,160.58L461.70,157.82L462.20,154.88L462.70,151.92L463.20,149.08L463.70,146.50L464.20,144.27L464.70,142.32L465.20,140.57L465.70,138.92L466.20,137.30L466.70,135.69L467.20,134.08L467.70,132.48L468.20,130.89L468.70,129.29L469.20,127.71L469.70,126.13L470.20,124.55L470.70,122.98L471.20,121.42L471.70,119.86L472.20,118.31L472.70,116.77L473.20,115.22L473.70,113.67L474.20,112.09L474.70,110.46L475.20,108.77L475.70,107.01L476.20,105.15L476.70,103.19L477.20,101.10L477.70,98.88L478.20,96.53L478.70,94.19L479.20,91.97L479.70,89.91L480.20,88.00L480.70,86.22L481.20,84.54L481.70,82.95L482.20,81.43L482.70,79.96L483.20,78.52L483.70,77.12L484.20,75.75L484.70,74.40L485.20,73.09L485.70,71.80L486.20,70.54L486.70,69.30L487.20,68.09L487.70,66.90L488.20,65.73L488.70,64.58L489.20,63.46L489.70,62.35L490.20,61.25L490.70,60.18L491.20,59.11L491.70,58.07L492.20,57.03L492.70,56.01L493.20,54.99L493.70,53.99L494.20,52.99L494.70,52.00L495.20,51.01L495.70,50.03L496.20,49.05L496.70,48.08L497.20,47.11L497.70,46.14L498.20,45.18L498.70,44.23L499.20,43.28L499.70,42.35L500.20,41.43L500.70,40.52L501.20,39.63L501.70,38.76L502.20,37.90L502.70,37.07L503.20,36.26L503.70,35.47L504.20,34.70L504.70,33.96L505.20,33.25L505.70,32.57L506.20,31.92L506.70,31.30L507.20,30.71L507.70,30.16L508.20,29.65L508.70,29.18L509.20,28.74L509.70,28.35L510.20,28.00L510.70,27.69L511.20,27.43L511.70,27.22L512.20,27.05L512.70,26.93L513.20,26.86L513.70,26.83L514.20,26.84L514.70,26.89L515.20,26.98L515.70,27.12L516.20,27.29L516.70,27.50L517.20,27.75L517.70,28.04L518.20,28.36L518.70,28.71L519.20,29.10L519.70,29.52L520.20,29.98L520.70,30.46L521.20,30.98L521.70,31.52L522.20,32.09L522.70,32.69L523.20,33.31L523.70,33.96L524.20,34.64L524.70,35.34L525.20,36.05L525.70,36.80L526.20,37.56L526.70,38.34L527.20,39.14L527.70,39.96L528.20,40.80L528.70,41.65L529.20,42.52L529.70,43.42L530.20,44.33L530.70,45.25L531.20,46.20L531.70,47.17L532.20,48.15L532.70,49.15L533.20,50.17L533.70,51.21L534.20,52.27L534.70,53.34L535.20,54.44L535.70,55.55L536.20,56.68L536.70,57.83L537.20,59.00L537.70,60.19L538.20,61.39L538.70,62.62L539.20,63.86L539.70,65.12L540.20,66.40L540.70,67.68L541.20,68.96L541.70,70.24L542.20,71.50L542.70,72.75L543.20,73.97L543.70,75.17L544.20,76.33L544.70,77.44L545.20,78.52L545.70,79.54L546.20,80.56L546.70,81.69L547.20,83.02L547.70,84.65L548.20,86.69L548.70,89.23L549.20,92.36L549.70,95.97L550.20,99.41L550.70,102.14L551.20,104.20L551.70,105.78L552.20,107.09L552.70,108.33L553.20,109.68L553.70,111.20L554.20,112.84L554.70,114.54L555.20,116.27L555.70,118.02L556.20,119.77L556.70,121.53L557.20,123.29L557.70,125.06L558.20,126.81L558.70,128.56L559.20,130.30L559.70,132.03L560.20,133.74L560.70,135.42L561.20,137.09L561.70,138.72L562.20,140.32L562.70,141.89L563.20,143.41L563.70,144.90L563.70,144.90L568.20,160.00L569.50,165.00L570.60,175.30L572.30,193.80L573.10,209.00L575.30,210.70L577.30,223.30L581.50,207.30L584.90,214.90L587.40,213.20L590.80,203.90L594.20,205.60L596.70,203.90L597.00,234.50" stroke="#1a1aff" stroke-width="1.65" fill="none" stroke-linejoin="round" stroke-linecap="butt" />
<path d="M409.80,162.40L413.50,159.20L417.70,153.40L420.20,150.80L422.50,150.30L425.30,148.30L427.00,149.10L430.30,142.40L433.70,139.30L437.10,132.30L440.00,127.57L440.50,127.23L441.00,126.88L441.50,126.51L442.00,126.13L442.50,125.73L443.00,125.31L443.50,124.88L444.00,124.44L444.50,123.98L445.00,123.51L445.50,123.03L446.00,122.53L446.50,122.02L447.00,121.51L447.50,120.98L448.00,120.44L448.50,119.90L449.00,119.34L449.50,118.78L450.00,118.21L450.50,117.64L451.00,117.06L451.50,116.47L452.00,115.88L452.50,115.28L453.00,114.68L453.50,114.07L454.00,113.47L454.50,112.86L455.00,112.25L455.50,111.63L456.00,111.02L456.50,110.41L457.00,109.80L457.50,109.19L458.00,108.58L458.50,107.97L459.00,107.37L459.50,106.77L460.00,106.17L460.50,105.58L461.00,104.99L461.50,104.41L462.00,103.84L462.50,103.27L463.00,102.70L463.50,102.15L464.00,101.59L464.50,101.04L465.00,100.48L465.50,99.93L466.00,99.37L466.50,98.81L467.00,98.25L467.50,97.68L468.00,97.10L468.50,96.52L469.00,95.92L469.50,95.32L470.00,94.70L470.50,94.07L471.00,93.42L471.50,92.76L472.00,92.08L472.50,91.38L473.00,90.67L473.50,89.93L474.00,89.17L474.50,88.38L475.00,87.58L475.50,86.75L476.00,85.89L476.50,85.02L477.00,84.12L477.50,83.21L478.00,82.27L478.50,81.31L479.00,80.34L479.50,79.35L480.00,78.34L480.50,77.31L481.00,76.27L481.50,75.22L482.00,74.15L482.50,73.06L483.00,71.97L483.50,70.86L484.00,69.75L484.50,68.62L485.00,67.49L485.50,66.36L486.00,65.22L486.50,64.09L487.00,62.95L487.50,61.81L488.00,60.67L488.50,59.54L489.00,58.42L489.50,57.30L490.00,56.18L490.50,55.08L491.00,53.99L491.50,52.91L492.00,51.85L492.50,50.80L493.00,49.76L493.50,48.74L494.00,47.74L494.50,46.76L495.00,45.79L495.50,44.83L496.00,43.89L496.50,42.96L497.00,42.05L497.50,41.15L498.00,40.26L498.50,39.39L499.00,38.53L499.50,37.68L500.00,36.85L500.50,36.03L501.00,35.21L501.50,34.42L502.00,33.64L502.50,32.87L503.00,32.13L503.50,31.40L504.00,30.69L504.50,30.00L505.00,29.34L505.50,28.70L506.00,28.08L506.50,27.49L507.00,26.93L507.50,26.39L508.00,25.88L508.50,25.41L509.00,24.97L509.50,24.55L510.00,24.18L510.50,23.83L511.00,23.53L511.50,23.26L512.00,23.03L512.50,22.84L513.00,22.69L513.50,22.58L514.00,22.52L514.50,22.50L515.00,22.53L515.50,22.60L516.00,22.72L516.50,22.89L517.00,23.11L517.50,23.37L518.00,23.68L518.50,24.03L519.00,24.42L519.50,24.85L520.00,25.32L520.50,25.83L521.00,26.37L521.50,26.95L522.00,27.57L522.50,28.21L523.00,28.89L523.50,29.60L524.00,30.34L524.50,31.11L525.00,31.90L525.50,32.72L526.00,33.56L526.50,34.43L527.00,35.32L527.50,36.23L528.00,37.16L528.50,38.10L529.00,39.07L529.50,40.04L530.00,41.04L530.50,42.04L531.00,43.06L531.50,44.09L532.00,45.12L532.50,46.17L533.00,47.22L533.50,48.28L534.00,49.34L534.50,50.41L535.00,51.47L535.50,52.54L536.00,53.61L536.50,54.68L537.00,55.75L537.50,56.82L538.00,57.89L538.50,58.95L539.00,60.02L539.50,61.08L540.00,62.14L540.50,63.20L541.00,64.26L541.50,65.31L542.00,66.35L542.50,67.40L543.00,68.43L543.50,69.47L544.00,70.49L544.50,71.51L545.00,72.52L545.50,73.53L546.00,74.52L546.50,75.51L547.00,76.49L547.50,77.47L548.00,78.43L548.50,79.38L549.00,80.32L549.50,81.26L550.00,82.18L550.50,83.09L551.00,83.98L551.50,84.87L552.00,85.74L552.50,86.60L553.00,87.44L553.50,88.28L554.00,89.10L554.50,89.91L555.00,90.71L555.50,91.50L556.00,92.27L556.50,93.04L557.00,93.80L557.50,94.55L558.00,95.29L558.50,96.02L559.00,96.74L559.50,97.46L560.00,98.16L560.50,98.86L561.00,99.56L561.50,100.24L562.00,100.92L562.50,101.60L563.00,102.27L563.50,102.93L564.00,103.59L564.50,104.25L565.00,104.90L565.50,105.55L566.00,106.19L566.50,106.84L567.00,107.48L567.50,108.12L568.00,108.75L568.50,109.39L569.00,110.03L569.50,110.66L570.00,111.29L570.50,111.93L571.00,112.57L571.50,113.20L572.00,113.84L572.50,114.48L573.00,115.12L573.50,115.77L574.00,116.41L574.50,117.06L575.00,117.72L575.50,118.38L576.00,119.04L576.50,119.71L577.00,120.38L577.50,121.06L578.00,121.74L578.50,122.43L579.00,123.13L579.50,123.83L580.00,124.54L580.50,125.26L581.00,125.98L581.50,126.72L582.00,127.46L582.50,128.22L583.00,128.98L583.50,129.75L584.00,130.53L584.50,131.33L585.00,132.13L588.40,135.60L590.10,142.40L591.70,145.70L594.60,150.80L597.40,151.30L600.20,153.00L602.40,159.20L604.70,160.90L607.50,162.60L609.70,167.10L611.40,171.60L612.50,177.20L613.10,184.50L614.80,185.60L616.50,185.10L618.10,182.80" stroke="#ff1a1a" stroke-width="1.65" fill="none" stroke-linejoin="round" stroke-linecap="butt" />
<path d="M411.80,234.50L412.10,200.60L414.30,193.80L417.70,202.20L422.80,203.90L427.00,188.80L429.50,187.90L435.40,174.40L437.90,173.60L439.60,170.00L443.80,163.50L446.20,160.23L446.70,159.04L447.20,157.84L447.70,156.64L448.20,155.45L448.70,154.26L449.20,153.07L449.70,151.90L450.20,150.72L450.70,149.56L451.20,148.40L451.70,147.25L452.20,146.12L452.70,144.99L453.20,143.88L453.70,142.78L454.20,141.69L454.70,140.62L455.20,139.57L455.70,138.53L456.20,137.51L456.70,136.51L457.20,135.52L457.70,134.56L458.20,133.61L458.70,132.67L459.20,131.74L459.70,130.82L460.20,129.90L460.70,128.97L461.20,128.05L461.70,127.11L462.20,126.17L462.70,125.21L463.20,124.23L463.70,123.23L464.20,122.21L464.70,121.16L465.20,120.08L465.70,118.97L466.20,117.82L466.70,116.64L467.20,115.42L467.70,114.17L468.20,112.89L468.70,111.58L469.20,110.25L469.70,108.89L470.20,107.51L470.70,106.11L471.20,104.69L471.70,103.25L472.20,101.80L472.70,100.34L473.20,98.86L473.70,97.38L474.20,95.89L474.70,94.40L475.20,92.90L475.70,91.40L476.20,89.90L476.70,88.41L477.20,86.92L477.70,85.43L478.20,83.96L478.70,82.49L479.20,81.04L479.70,79.60L480.20,78.17L480.70,76.77L481.20,75.38L481.70,74.02L482.20,72.67L482.70,71.35L483.20,70.06L483.70,68.80L484.20,67.56L484.70,66.35L485.20,65.18L485.70,64.03L486.20,62.93L486.70,61.86L487.20,60.82L487.70,59.83L488.20,58.87L488.70,57.95L489.20,57.05L489.70,56.16L490.20,55.29L490.70,54.43L491.20,53.58L491.70,52.72L492.20,51.85L492.70,50.97L493.20,50.07L493.70,49.16L494.20,48.24L494.70,47.31L495.20,46.38L495.70,45.43L496.20,44.49L496.70,43.54L497.20,42.59L497.70,41.64L498.20,40.70L498.70,39.77L499.20,38.84L499.70,37.93L500.20,37.02L500.70,36.13L501.20,35.26L501.70,34.41L502.20,33.57L502.70,32.76L503.20,31.97L503.70,31.21L504.20,30.48L504.70,29.78L505.20,29.11L505.70,28.47L506.20,27.87L506.70,27.31L507.20,26.79L507.70,26.32L508.20,25.88L508.70,25.49L509.20,25.14L509.70,24.83L510.20,24.57L510.70,24.34L511.20,24.16L511.70,24.01L512.20,23.90L512.70,23.83L513.20,23.80L513.70,23.81L514.20,23.85L514.70,23.93L515.20,24.05L515.70,24.20L516.20,24.38L516.70,24.60L517.20,24.85L517.70,25.14L518.20,25.46L518.70,25.81L519.20,26.19L519.70,26.60L520.20,27.04L520.70,27.51L521.20,28.01L521.70,28.54L522.20,29.10L522.70,29.69L523.20,30.30L523.70,30.94L524.20,31.60L524.70,32.29L525.20,33.00L525.70,33.74L526.20,34.51L526.70,35.29L527.20,36.10L527.70,36.93L528.20,37.78L528.70,38.65L529.20,39.55L529.70,40.46L530.20,41.39L530.70,42.34L531.20,43.31L531.70,44.30L532.20,45.30L532.70,46.33L533.20,47.36L533.70,48.41L534.20,49.48L534.70,50.56L535.20,51.66L535.70,52.77L536.20,53.89L536.70,55.02L537.20,56.17L537.70,57.33L538.20,58.49L538.70,59.67L539.20,60.86L539.70,62.05L540.20,63.26L540.70,64.47L541.20,65.69L541.70,66.93L542.20,68.16L542.70,69.41L543.20,70.66L543.70,71.92L544.20,73.19L544.70,74.47L545.20,75.75L545.70,77.03L546.20,78.32L546.70,79.62L547.20,80.92L547.70,82.23L548.20,83.54L548.70,84.86L549.20,86.18L549.70,87.51L550.20,88.83L550.70,90.16L551.20,91.50L551.70,92.83L552.20,94.17L552.70,95.51L553.20,96.86L553.70,98.20L554.20,99.55L554.70,100.89L555.20,102.24L555.70,103.59L556.20,104.94L556.70,106.28L557.20,107.63L557.70,108.98L558.20,110.32L558.70,111.67L559.20,113.01L559.70,114.35L560.20,115.69L560.70,117.03L561.20,118.36L561.70,119.69L562.20,121.02L562.70,122.34L563.20,123.66L563.70,124.98L564.20,126.29L564.70,127.60L565.20,128.90L565.70,130.20L566.20,131.49L566.70,132.78L567.20,134.06L567.70,135.34L568.20,136.60L568.70,137.87L569.20,139.12L569.30,139.37L572.70,149.40L575.50,159.00L578.10,165.00L582.40,178.30L585.00,174.90L588.40,178.30L590.10,177.20L591.70,181.70L594.00,181.70L596.20,189.00L598.40,196.40L605.10,194.20L605.10,234.50" stroke="#9acd32" stroke-width="1.65" fill="none" stroke-linejoin="round" stroke-linecap="butt" />
<path d="M409.80,209.80L411.80,200.60L414.30,191.30L416.90,200.60L418.50,187.90L420.20,187.10L422.80,180.30L425.30,177.00L427.30,170.50L429.50,168.50L433.70,161.50L436.20,158.40L437.10,155.10L440.00,154.91L440.50,154.03L441.00,153.16L441.50,152.30L442.00,151.44L442.50,150.58L443.00,149.73L443.50,148.89L444.00,148.05L444.50,147.21L445.00,146.38L445.50,145.55L446.00,144.72L446.50,143.89L447.00,143.07L447.50,142.25L448.00,141.43L448.50,140.62L449.00,139.80L449.50,138.98L450.00,138.17L450.50,137.35L451.00,136.54L451.50,135.72L452.00,134.90L452.50,134.08L453.00,133.26L453.50,132.44L454.00,131.61L454.50,130.78L455.00,129.95L455.50,129.11L456.00,128.27L456.50,127.43L457.00,126.58L457.50,125.73L458.00,124.87L458.50,124.01L459.00,123.14L459.50,122.27L460.00,121.38L460.50,120.50L461.00,119.60L461.50,118.70L462.00,117.79L462.50,116.87L463.00,115.94L463.50,115.00L464.00,114.06L464.50,113.10L465.00,112.14L465.50,111.16L466.00,110.18L466.50,109.18L467.00,108.17L467.50,107.15L468.00,106.12L468.50,105.08L469.00,104.02L469.50,102.95L470.00,101.87L470.50,100.78L471.00,99.67L471.50,98.54L472.00,97.40L472.50,96.25L473.00,95.08L473.50,93.90L474.00,92.71L474.50,91.51L475.00,90.29L475.50,89.07L476.00,87.84L476.50,86.60L477.00,85.36L477.50,84.11L478.00,82.87L478.50,81.62L479.00,80.37L479.50,79.12L480.00,77.87L480.50,76.62L481.00,75.38L481.50,74.15L482.00,72.92L482.50,71.70L483.00,70.49L483.50,69.29L484.00,68.10L484.50,66.93L485.00,65.77L485.50,64.62L486.00,63.49L486.50,62.38L487.00,61.28L487.50,60.21L488.00,59.15L488.50,58.12L489.00,57.12L489.50,56.13L490.00,55.17L490.50,54.22L491.00,53.29L491.50,52.38L492.00,51.48L492.50,50.59L493.00,49.71L493.50,48.84L494.00,47.97L494.50,47.10L495.00,46.24L495.50,45.37L496.00,44.50L496.50,43.63L497.00,42.75L497.50,41.87L498.00,40.99L498.50,40.10L499.00,39.23L499.50,38.36L500.00,37.50L500.50,36.65L501.00,35.82L501.50,35.00L502.00,34.20L502.50,33.42L503.00,32.67L503.50,31.94L504.00,31.23L504.50,30.56L505.00,29.92L505.50,29.31L506.00,28.73L506.50,28.18L507.00,27.66L507.50,27.17L508.00,26.71L508.50,26.29L509.00,25.89L509.50,25.53L510.00,25.21L510.50,24.92L511.00,24.66L511.50,24.43L512.00,24.24L512.50,24.09L513.00,23.97L513.50,23.88L514.00,23.84L514.50,23.82L515.00,23.85L515.50,23.91L516.00,24.01L516.50,24.14L517.00,24.32L517.50,24.53L518.00,24.78L518.50,25.07L519.00,25.40L519.50,25.77L520.00,26.18L520.50,26.63L521.00,27.11L521.50,27.63L522.00,28.19L522.50,28.78L523.00,29.41L523.50,30.07L524.00,30.76L524.50,31.47L525.00,32.22L525.50,33.00L526.00,33.80L526.50,34.63L527.00,35.49L527.50,36.37L528.00,37.27L528.50,38.19L529.00,39.14L529.50,40.10L530.00,41.08L530.50,42.08L531.00,43.09L531.50,44.12L532.00,45.17L532.50,46.23L533.00,47.30L533.50,48.38L534.00,49.47L534.50,50.56L535.00,51.67L535.50,52.78L536.00,53.91L536.50,55.04L537.00,56.17L537.50,57.32L538.00,58.47L538.50,59.63L539.00,60.80L539.50,61.97L540.00,63.15L540.50,64.34L541.00,65.54L541.50,66.75L542.00,67.96L542.50,69.18L543.00,70.41L543.50,71.64L544.00,72.89L544.50,74.14L545.00,75.39L545.50,76.66L546.00,77.93L546.50,79.21L547.00,80.50L547.50,81.80L548.00,83.10L548.50,84.41L549.00,85.73L549.50,87.05L550.00,88.39L550.50,89.73L551.00,91.08L551.50,92.43L552.00,93.79L552.50,95.15L553.00,96.51L553.50,97.88L554.00,99.25L554.50,100.62L555.00,101.99L555.50,103.35L556.00,104.72L556.50,106.08L557.00,107.43L557.50,108.79L558.00,110.13L558.50,111.47L559.00,112.80L559.50,114.12L560.00,115.43L560.50,116.73L561.00,118.02L561.50,119.30L562.00,120.56L562.50,121.81L563.00,123.04L563.50,124.26L564.00,125.45L564.50,126.64L565.00,127.80L565.50,128.94L566.00,130.06L566.50,131.16L567.00,132.24L567.50,133.29L568.00,134.32L568.50,135.32L569.00,136.30L569.30,136.87L571.60,142.70L573.80,143.80L576.10,149.40L577.80,153.90L581.70,155.10L585.10,157.30L587.20,160.30L589.50,164.80L592.90,167.60L594.60,171.60L596.80,168.20L598.50,164.30L600.70,167.60L603.50,169.30L606.30,170.40L609.20,172.10L611.40,172.10L612.50,174.90L613.70,180.60L615.30,176.60L616.50,182.80L617.60,186.20" stroke="#2e8b57" stroke-width="1.65" fill="none" stroke-linejoin="round" stroke-linecap="butt" />
<path d="M481.00,75.38L481.50,74.15L482.00,72.92L482.50,71.70L483.00,70.49L483.50,69.29L484.00,68.10L484.50,66.93L485.00,65.77L485.50,64.62L486.00,63.49L486.50,62.38L487.00,61.28L487.50,60.21L488.00,59.15L488.50,58.12L489.00,57.12L489.50,56.13L490.00,55.17L490.50,54.22L491.00,53.29L491.50,52.38L492.00,51.48L492.50,50.59L493.00,49.71L493.50,48.84L494.00,47.97L494.50,47.10L495.00,46.24L495.50,45.37L496.00,44.50L496.50,43.63L497.00,42.75L497.50,41.87L498.00,40.99L498.50,40.10L499.00,39.23L499.50,38.36L500.00,37.50L500.50,36.65L501.00,35.82L501.50,35.00L502.00,34.20L502.50,33.42L503.00,32.67L503.50,31.94L504.00,31.23L504.50,30.56L505.00,29.92L505.50,29.31L506.00,28.73L506.50,28.18L507.00,27.66L507.50,27.17L508.00,26.71L508.50,26.29L509.00,25.89L509.50,25.53L510.00,25.21L510.50,24.92L511.00,24.66L511.50,24.43L512.00,24.24L512.50,24.09L513.00,23.97L513.50,23.88L514.00,23.84L514.50,23.82L515.00,23.85L515.50,23.91L516.00,24.01L516.50,24.14L517.00,24.32L517.50,24.53L518.00,24.78L518.50,25.07L519.00,25.40L519.50,25.77L520.00,26.18L520.50,26.63L521.00,27.11L521.50,27.63L522.00,28.19L522.50,28.78L523.00,29.41L523.50,30.07L524.00,30.76L524.50,31.47L525.00,32.22L525.50,33.00L526.00,33.80L526.50,34.63L527.00,35.49L527.50,36.37L528.00,37.27L528.50,38.19L529.00,39.14L529.50,40.10L530.00,41.08L530.50,42.08L531.00,43.09L531.50,44.12L532.00,45.17L532.50,46.23L533.00,47.30L533.50,48.38L534.00,49.47L534.50,50.56L535.00,51.67L535.50,52.78L536.00,53.91L536.50,55.04L537.00,56.17L537.50,57.32L538.00,58.47L538.50,59.63L539.00,60.80L539.50,61.97L540.00,63.15L540.50,64.34L541.00,65.54L541.50,66.75L542.00,67.96L542.50,69.18L543.00,70.41L543.50,71.64L544.00,72.89L544.50,74.14L545.00,75.39" stroke="#6a9e3e" stroke-width="1.65" fill="none" stroke-linejoin="round" stroke-linecap="butt" stroke-opacity="0.85"/>
<path d="M431.3,235V210L433.2,214V235M437.4,235V215H438.6V235M441.3,235V215H442.5V235M447.6,235V215H448.8V235" stroke="#1a1aff" stroke-width="1.5" fill="none" stroke-linejoin="miter"/>
</g>
<text class="t" x="388.70" y="20.65" font-size="8.9" fill="#262626">0</text>
<text class="t" x="372.53" y="25.55" font-size="13.9" fill="#262626" textLength="14.94" lengthAdjust="spacingAndGlyphs">10</text>
<text class="t" x="388.79" y="49.22" font-size="8.9" fill="#262626">1</text>
<path d="M382.15,46.47H387.66" stroke="#262626" stroke-width="0.9"/>
<text class="t" x="365.98" y="54.12" font-size="13.9" fill="#262626" textLength="14.94" lengthAdjust="spacingAndGlyphs">10</text>
<text class="t" x="388.80" y="77.79" font-size="8.9" fill="#262626">2</text>
<path d="M381.92,75.04H387.44" stroke="#262626" stroke-width="0.9"/>
<text class="t" x="365.76" y="82.69" font-size="13.9" fill="#262626" textLength="14.94" lengthAdjust="spacingAndGlyphs">10</text>
<text class="t" x="388.74" y="106.36" font-size="8.9" fill="#262626">3</text>
<path d="M381.76,103.61H387.28" stroke="#262626" stroke-width="0.9"/>
<text class="t" x="365.60" y="111.26" font-size="13.9" fill="#262626" textLength="14.94" lengthAdjust="spacingAndGlyphs">10</text>
<text class="t" x="388.61" y="134.93" font-size="8.9" fill="#262626">4</text>
<path d="M381.50,132.18H387.01" stroke="#262626" stroke-width="0.9"/>
<text class="t" x="365.33" y="139.83" font-size="13.9" fill="#262626" textLength="14.94" lengthAdjust="spacingAndGlyphs">10</text>
<text class="t" x="388.73" y="163.50" font-size="8.9" fill="#262626">5</text>
<path d="M381.76,160.75H387.28" stroke="#262626" stroke-width="0.9"/>
<text class="t" x="365.60" y="168.40" font-size="13.9" fill="#262626" textLength="14.94" lengthAdjust="spacingAndGlyphs">10</text>
<text class="t" x="388.74" y="192.07" font-size="8.9" fill="#262626">6</text>
<path d="M381.88,189.32H387.40" stroke="#262626" stroke-width="0.9"/>
<text class="t" x="365.71" y="196.97" font-size="13.9" fill="#262626" textLength="14.94" lengthAdjust="spacingAndGlyphs">10</text>
<text class="t" x="388.80" y="220.64" font-size="8.9" fill="#262626">7</text>
<path d="M381.93,217.89H387.45" stroke="#262626" stroke-width="0.9"/>
<text class="t" x="365.77" y="225.54" font-size="13.9" fill="#262626" textLength="14.94" lengthAdjust="spacingAndGlyphs">10</text>
<text class="t" x="410.60" y="249.90" font-size="14.2" text-anchor="middle" fill="#262626">−10</text>
<text class="t" x="463.00" y="249.90" font-size="14.2" text-anchor="middle" fill="#262626">−5</text>
<text class="t" x="515.40" y="249.90" font-size="14.2" text-anchor="middle" fill="#262626">0</text>
<text class="t" x="567.80" y="249.90" font-size="14.2" text-anchor="middle" fill="#262626">5</text>
<text class="t" x="620.20" y="249.90" font-size="14.2" text-anchor="middle" fill="#262626">10</text>
<text class="t" x="513.90" y="265.50" font-size="14.2" text-anchor="middle" font-weight="normal" fill="#262626" textLength="124.6" lengthAdjust="spacingAndGlyphs">Standard Deviations</text>
<text class="t" x="0.00" y="0.00" font-size="13.3" text-anchor="middle" font-weight="normal" fill="#262626" transform="translate(358.0,124.0) rotate(-90)" textLength="115.2" lengthAdjust="spacingAndGlyphs">Probability Density</text>
<text x="0.00" y="0.00" font-size="28.1" text-anchor="start" font-weight="bold" fill="#000" transform="translate(329.4,25.8) scale(0.835,1)" stroke="#000" stroke-width="0.6">B</text>
<rect x="588.9" y="12.00" width="9" height="9" fill="#e6f3dc" stroke="#a2d048" stroke-width="2"/>
<text class="t" x="607.30" y="22.80" font-size="14.6" text-anchor="start" font-weight="normal" fill="#111" textLength="69.9" lengthAdjust="spacingAndGlyphs">Wake – EC</text>
<rect x="588.9" y="31.90" width="9" height="9" fill="#74b890" stroke="#3a9060" stroke-width="2"/>
<text class="t" x="607.30" y="42.65" font-size="14.6" text-anchor="start" font-weight="normal" fill="#111" textLength="72.7" lengthAdjust="spacingAndGlyphs">Wake – EO</text>
<rect x="588.9" y="51.80" width="9" height="9" fill="#eaa5a5" stroke="#e06666" stroke-width="2"/>
<text class="t" x="607.30" y="62.50" font-size="14.6" text-anchor="start" font-weight="normal" fill="#111" textLength="63.1" lengthAdjust="spacingAndGlyphs">Ketamine</text>
<rect x="588.9" y="71.70" width="9" height="9" fill="#cfe6f0" stroke="#1f2fff" stroke-width="2"/>
<text class="t" x="607.30" y="82.35" font-size="14.6" text-anchor="start" font-weight="normal" fill="#111" textLength="56.8" lengthAdjust="spacingAndGlyphs">Propofol</text>
<rect x="588.9" y="91.60" width="9" height="9" fill="#a8a8a8" stroke="#151515" stroke-width="2"/>
<text class="t" x="607.30" y="102.20" font-size="14.6" text-anchor="start" font-weight="normal" fill="#111" textLength="41.7" lengthAdjust="spacingAndGlyphs">Xenon</text>
<path d="M51.20,288.30V503.20M50.60,503.20H245.40" stroke="#555555" stroke-width="1.25" fill="none"/>
<path d="M48.40,503.18H51.20M48.40,472.20H51.20M48.40,441.22H51.20M48.40,410.24H51.20M48.40,379.26H51.20M48.40,348.28H51.20M48.40,317.30H51.20" stroke="#555555" stroke-width="0.9" fill="none"/>
<path d="M49.40,493.85H51.20M49.40,488.40H51.20M49.40,484.53H51.20M49.40,481.53H51.20M49.40,479.07H51.20M49.40,477.00H51.20M49.40,475.20H51.20M49.40,473.62H51.20M49.40,462.87H51.20M49.40,457.42H51.20M49.40,453.55H51.20M49.40,450.55H51.20M49.40,448.09H51.20M49.40,446.02H51.20M49.40,444.22H51.20M49.40,442.64H51.20M49.40,431.89H51.20M49.40,426.44H51.20M49.40,422.57H51.20M49.40,419.57H51.20M49.40,417.11H51.20M49.40,415.04H51.20M49.40,413.24H51.20M49.40,411.66H51.20M49.40,400.91H51.20M49.40,395.46H51.20M49.40,391.59H51.20M49.40,388.59H51.20M49.40,386.13H51.20M49.40,384.06H51.20M49.40,382.26H51.20M49.40,380.68H51.20M49.40,369.93H51.20M49.40,364.48H51.20M49.40,360.61H51.20M49.40,357.61H51.20M49.40,355.15H51.20M49.40,353.08H51.20M49.40,351.28H51.20M49.40,349.70H51.20M49.40,338.95H51.20M49.40,333.50H51.20M49.40,329.63H51.20M49.40,326.63H51.20M49.40,324.17H51.20M49.40,322.10H51.20M49.40,320.30H51.20M49.40,318.72H51.20M49.40,307.97H51.20M49.40,302.52H51.20M49.40,298.65H51.20M49.40,295.65H51.20M49.40,293.19H51.20M49.40,291.12H51.20M49.40,289.32H51.20" stroke="#555555" stroke-width="0.7" fill="none"/>
<path d="M51.20,503.20V506.20M99.75,503.20V506.20M148.30,503.20V506.20M196.85,503.20V506.20M245.40,503.20V506.20" stroke="#555555" stroke-width="0.9" fill="none"/>
<path d="M128.88,503.20V288.30" stroke="#a8a8a8" stroke-width="1.3" stroke-dasharray="4.25 1.85" fill="none"/>
<path d="M167.72,503.20V288.30" stroke="#a8a8a8" stroke-width="1.3" stroke-dasharray="4.25 1.85" fill="none"/>
<path d="M284.70,289.40V503.20M284.10,503.20H478.50" stroke="#555555" stroke-width="1.25" fill="none"/>
<path d="M281.90,503.00H284.70M281.90,472.60H284.70M281.90,442.20H284.70M281.90,411.80H284.70M281.90,381.40H284.70M281.90,351.00H284.70M281.90,320.60H284.70M281.90,290.20H284.70" stroke="#555555" stroke-width="0.9" fill="none"/>
<path d="M282.90,493.85H284.70M282.90,488.50H284.70M282.90,484.70H284.70M282.90,481.75H284.70M282.90,479.34H284.70M282.90,477.31H284.70M282.90,475.55H284.70M282.90,473.99H284.70M282.90,463.45H284.70M282.90,458.10H284.70M282.90,454.30H284.70M282.90,451.35H284.70M282.90,448.94H284.70M282.90,446.91H284.70M282.90,445.15H284.70M282.90,443.59H284.70M282.90,433.05H284.70M282.90,427.70H284.70M282.90,423.90H284.70M282.90,420.95H284.70M282.90,418.54H284.70M282.90,416.51H284.70M282.90,414.75H284.70M282.90,413.19H284.70M282.90,402.65H284.70M282.90,397.30H284.70M282.90,393.50H284.70M282.90,390.55H284.70M282.90,388.14H284.70M282.90,386.11H284.70M282.90,384.35H284.70M282.90,382.79H284.70M282.90,372.25H284.70M282.90,366.90H284.70M282.90,363.10H284.70M282.90,360.15H284.70M282.90,357.74H284.70M282.90,355.71H284.70M282.90,353.95H284.70M282.90,352.39H284.70M282.90,341.85H284.70M282.90,336.50H284.70M282.90,332.70H284.70M282.90,329.75H284.70M282.90,327.34H284.70M282.90,325.31H284.70M282.90,323.55H284.70M282.90,321.99H284.70M282.90,311.45H284.70M282.90,306.10H284.70M282.90,302.30H284.70M282.90,299.35H284.70M282.90,296.94H284.70M282.90,294.91H284.70M282.90,293.15H284.70M282.90,291.59H284.70" stroke="#555555" stroke-width="0.7" fill="none"/>
<path d="M284.70,503.20V506.20M333.15,503.20V506.20M381.60,503.20V506.20M430.05,503.20V506.20M478.50,503.20V506.20" stroke="#555555" stroke-width="0.9" fill="none"/>
<path d="M362.22,503.20V289.40" stroke="#a8a8a8" stroke-width="1.3" stroke-dasharray="4.25 1.85" fill="none"/>
<path d="M400.98,503.20V289.40" stroke="#a8a8a8" stroke-width="1.3" stroke-dasharray="4.25 1.85" fill="none"/>
<path d="M517.80,288.20V503.00M517.20,503.00H712.40" stroke="#555555" stroke-width="1.25" fill="none"/>
<path d="M515.00,502.20H517.80M515.00,473.00H517.80M515.00,443.80H517.80M515.00,414.60H517.80M515.00,385.40H517.80M515.00,356.20H517.80M515.00,327.00H517.80M515.00,297.80H517.80" stroke="#555555" stroke-width="0.9" fill="none"/>
<path d="M516.00,493.41H517.80M516.00,488.27H517.80M516.00,484.62H517.80M516.00,481.79H517.80M516.00,479.48H517.80M516.00,477.52H517.80M516.00,475.83H517.80M516.00,474.34H517.80M516.00,464.21H517.80M516.00,459.07H517.80M516.00,455.42H517.80M516.00,452.59H517.80M516.00,450.28H517.80M516.00,448.32H517.80M516.00,446.63H517.80M516.00,445.14H517.80M516.00,435.01H517.80M516.00,429.87H517.80M516.00,426.22H517.80M516.00,423.39H517.80M516.00,421.08H517.80M516.00,419.12H517.80M516.00,417.43H517.80M516.00,415.94H517.80M516.00,405.81H517.80M516.00,400.67H517.80M516.00,397.02H517.80M516.00,394.19H517.80M516.00,391.88H517.80M516.00,389.92H517.80M516.00,388.23H517.80M516.00,386.74H517.80M516.00,376.61H517.80M516.00,371.47H517.80M516.00,367.82H517.80M516.00,364.99H517.80M516.00,362.68H517.80M516.00,360.72H517.80M516.00,359.03H517.80M516.00,357.54H517.80M516.00,347.41H517.80M516.00,342.27H517.80M516.00,338.62H517.80M516.00,335.79H517.80M516.00,333.48H517.80M516.00,331.52H517.80M516.00,329.83H517.80M516.00,328.34H517.80M516.00,318.21H517.80M516.00,313.07H517.80M516.00,309.42H517.80M516.00,306.59H517.80M516.00,304.28H517.80M516.00,302.32H517.80M516.00,300.63H517.80M516.00,299.14H517.80M516.00,289.01H517.80" stroke="#555555" stroke-width="0.7" fill="none"/>
<path d="M517.80,503.00V506.00M566.40,503.00V506.00M615.00,503.00V506.00M663.60,503.00V506.00M712.20,503.00V506.00" stroke="#555555" stroke-width="0.9" fill="none"/>
<path d="M595.56,503.00V288.20" stroke="#a8a8a8" stroke-width="1.3" stroke-dasharray="4.25 1.85" fill="none"/>
<path d="M634.44,503.00V288.20" stroke="#a8a8a8" stroke-width="1.3" stroke-dasharray="4.25 1.85" fill="none"/>
<path d="M97.60,502.90L97.91,500.66L98.22,498.44L98.54,496.23L98.85,494.04L99.16,491.86L99.47,489.69L99.78,487.54L100.09,485.40L100.41,483.28L100.72,481.17L101.03,479.07L101.34,476.99L101.65,474.93L101.97,472.87L102.28,470.83L102.59,468.81L102.90,466.80L103.21,464.80L103.53,462.82L103.84,460.85L104.15,458.89L104.46,456.95L104.77,455.03L105.08,453.11L105.40,451.22L105.71,449.33L106.02,447.46L106.33,445.60L106.64,443.76L106.96,441.93L107.27,440.12L107.58,438.32L107.89,436.54L108.20,434.76L108.52,433.01L108.83,431.26L109.14,429.53L109.45,427.82L109.76,426.12L110.07,424.43L110.39,422.76L110.70,421.10L111.01,419.45L111.32,417.82L111.63,416.20L111.95,414.60L112.26,413.01L112.57,411.44L112.88,409.88L113.19,408.33L113.51,406.80L113.82,405.28L114.13,403.78L114.44,402.29L114.75,400.81L115.06,399.35L115.38,397.90L115.69,396.47L116.00,395.05" stroke="#ffa500" stroke-width="1.65" fill="none" stroke-linejoin="round" stroke-linecap="butt" stroke-dasharray="5.5 2.4"/>
<path d="M178.60,395.23L178.91,396.64L179.22,398.07L179.53,399.51L179.84,400.97L180.15,402.44L180.46,403.92L180.77,405.42L181.08,406.93L181.39,408.45L181.70,409.99L182.01,411.55L182.32,413.11L182.63,414.69L182.94,416.29L183.25,417.90L183.56,419.52L183.87,421.16L184.18,422.81L184.49,424.47L184.80,426.15L185.11,427.84L185.42,429.55L185.73,431.27L186.04,433.00L186.35,434.75L186.66,436.51L186.97,438.29L187.28,440.08L187.59,441.88L187.91,443.70L188.22,445.53L188.53,447.38L188.84,449.24L189.15,451.11L189.46,453.00L189.77,454.90L190.08,456.81L190.39,458.74L190.70,460.68L191.01,462.64L191.32,464.61L191.63,466.60L191.94,468.60L192.25,470.61L192.56,472.63L192.87,474.68L193.18,476.73L193.49,478.80L193.80,480.88L194.11,482.98L194.42,485.09L194.73,487.21L195.04,489.35L195.35,491.50L195.66,493.67L195.97,495.85L196.28,498.04L196.59,500.25L196.90,502.47" stroke="#ffa500" stroke-width="1.65" fill="none" stroke-linejoin="round" stroke-linecap="butt" stroke-dasharray="5.5 2.4"/>
<path d="M70.80,503.50L73.20,493.20L76.40,494.00L78.70,486.90L81.10,478.90L83.50,472.50L85.90,470.20L88.30,468.60L89.90,461.40L91.50,455.00L93.90,448.70L97.00,442.11L97.50,440.00L98.00,438.00L98.50,436.09L99.00,434.27L99.50,432.53L100.00,430.86L100.50,429.27L101.00,427.73L101.50,426.26L102.00,424.83L102.50,423.45L103.00,422.11L103.50,420.80L104.00,419.52L104.50,418.26L105.00,417.01L105.50,415.77L106.00,414.53L106.50,413.29L107.00,412.04L107.50,410.77L108.00,409.48L108.50,408.16L109.00,406.80L109.50,405.41L110.00,403.97L110.50,402.49L111.00,400.98L111.50,399.43L112.00,397.85L112.50,396.24L113.00,394.60L113.50,392.94L114.00,391.27L114.50,389.57L115.00,387.86L115.50,386.14L116.00,384.41L116.50,382.68L117.00,380.94L117.50,379.20L118.00,377.47L118.50,375.74L119.00,374.03L119.50,372.32L120.00,370.63L120.50,368.96L121.00,367.31L121.50,365.68L122.00,364.08L122.50,362.51L123.00,360.96L123.50,359.45L124.00,357.96L124.50,356.50L125.00,355.07L125.50,353.66L126.00,352.29L126.50,350.95L127.00,349.63L127.50,348.34L128.00,347.08L128.50,345.85L129.00,344.65L129.50,343.48L130.00,342.34L130.50,341.23L131.00,340.15L131.50,339.10L132.00,338.08L132.50,337.09L133.00,336.12L133.50,335.19L134.00,334.29L134.50,333.42L135.00,332.58L135.50,331.77L136.00,331.00L136.50,330.25L137.00,329.53L137.50,328.85L138.00,328.19L138.50,327.57L139.00,326.98L139.50,326.42L140.00,325.89L140.50,325.40L141.00,324.93L141.50,324.50L142.00,324.10L142.50,323.73L143.00,323.40L143.50,323.09L144.00,322.82L144.50,322.59L145.00,322.38L145.50,322.21L146.00,322.07L146.50,321.96L147.00,321.89L147.50,321.85L148.00,321.84L148.50,321.87L149.00,321.94L149.50,322.05L150.00,322.19L150.50,322.39L151.00,322.63L151.50,322.91L152.00,323.25L152.50,323.63L153.00,324.08L153.50,324.57L154.00,325.13L154.50,325.74L155.00,326.42L155.50,327.16L156.00,327.96L156.50,328.82L157.00,329.73L157.50,330.68L158.00,331.66L158.50,332.65L159.00,333.65L159.50,334.64L160.00,335.63L160.50,336.59L161.00,337.51L161.50,338.39L162.00,339.23L162.50,340.04L163.00,340.84L163.50,341.64L164.00,342.45L164.50,343.29L165.00,344.17L165.50,345.10L166.00,346.10L166.50,347.19L167.00,348.37L167.50,349.66L168.00,351.04L168.50,352.51L169.00,354.07L169.50,355.70L170.00,357.39L170.50,359.15L171.00,360.95L171.50,362.79L172.00,364.66L172.50,366.56L173.00,368.48L173.50,370.40L174.00,372.33L174.50,374.24L175.00,376.14L175.50,378.02L176.00,379.86L176.50,381.67L177.00,383.44L177.50,385.18L178.00,386.89L178.50,388.58L179.00,390.25L179.50,391.89L180.00,393.52L180.50,395.14L181.00,396.75L181.50,398.36L182.00,399.96L182.50,401.56L183.00,403.17L183.50,404.79L184.00,406.42L184.50,408.06L185.00,409.72L185.50,411.40L186.00,413.10L186.50,414.84L187.00,416.60L187.50,418.40L188.00,420.23L188.50,422.11L189.00,424.01L189.50,425.94L190.00,427.89L190.50,429.85L191.00,431.81L191.50,433.76L192.00,435.69L192.50,437.60L193.00,439.49L193.50,441.33L194.00,443.12L194.50,444.86L195.00,446.54L195.50,448.15L196.00,449.68L196.50,451.12L197.00,452.46L197.50,453.70L198.00,454.85L198.50,455.96L199.00,457.11L199.50,458.36L200.00,459.81L200.50,461.51L201.00,463.54L201.50,465.98L202.00,468.91L202.30,470.92L203.90,486.90L205.50,498.00L207.90,492.50L208.70,503.50" stroke="#9acd32" stroke-width="1.65" fill="none" stroke-linejoin="round" stroke-linecap="butt" />
<path d="M213.3,503.5V492.5L214.3,492.5V503.5" stroke="#9acd32" stroke-width="1.5" fill="none"/>
<path d="M95.00,503.32L95.50,490.97L96.00,482.67L96.50,477.42L97.00,474.20L97.50,472.00L98.00,469.84L98.50,467.19L99.00,464.19L99.50,461.01L100.00,457.82L100.50,454.76L101.00,451.92L101.50,449.28L102.00,446.81L102.50,444.52L103.00,442.38L103.50,440.38L104.00,438.52L104.50,436.76L105.00,435.10L105.50,433.53L106.00,432.03L106.50,430.56L107.00,429.04L107.50,427.37L108.00,425.49L108.50,423.31L109.00,420.87L109.50,418.31L110.00,415.77L110.50,413.33L111.00,411.00L111.50,408.77L112.00,406.62L112.50,404.56L113.00,402.56L113.50,400.62L114.00,398.72L114.50,396.86L115.00,395.03L115.50,393.21L116.00,391.39L116.50,389.57L117.00,387.75L117.50,385.92L118.00,384.09L118.50,382.26L119.00,380.43L119.50,378.61L120.00,376.79L120.50,374.99L121.00,373.20L121.50,371.42L122.00,369.66L122.50,367.92L123.00,366.20L123.50,364.51L124.00,362.84L124.50,361.20L125.00,359.59L125.50,358.02L126.00,356.48L126.50,354.97L127.00,353.51L127.50,352.09L128.00,350.72L128.50,349.39L129.00,348.11L129.50,346.89L130.00,345.71L130.50,344.60L131.00,343.54L131.50,342.53L132.00,341.57L132.50,340.65L133.00,339.78L133.50,338.94L134.00,338.14L134.50,337.37L135.00,336.63L135.50,335.92L136.00,335.22L136.50,334.55L137.00,333.89L137.50,333.25L138.00,332.62L138.50,332.00L139.00,331.38L139.50,330.77L140.00,330.17L140.50,329.59L141.00,329.03L141.50,328.48L142.00,327.97L142.50,327.48L143.00,327.03L143.50,326.61L144.00,326.24L144.50,325.91L145.00,325.62L145.50,325.39L146.00,325.22L146.50,325.10L147.00,325.05L147.50,325.06L148.00,325.14L148.50,325.28L149.00,325.49L149.50,325.75L150.00,326.08L150.50,326.45L151.00,326.88L151.50,327.35L152.00,327.86L152.50,328.40L153.00,328.98L153.50,329.58L154.00,330.21L154.50,330.85L155.00,331.51L155.50,332.17L156.00,332.84L156.50,333.51L157.00,334.19L157.50,334.87L158.00,335.57L158.50,336.28L159.00,337.00L159.50,337.74L160.00,338.50L160.50,339.28L161.00,340.08L161.50,340.90L162.00,341.76L162.50,342.64L163.00,343.55L163.50,344.50L164.00,345.48L164.50,346.50L165.00,347.56L165.50,348.66L166.00,349.80L166.50,350.99L167.00,352.22L167.50,353.51L168.00,354.85L168.50,356.25L169.00,357.72L169.50,359.24L170.00,360.84L170.50,362.50L171.00,364.25L171.50,366.06L172.00,367.94L172.50,369.88L173.00,371.87L173.50,373.91L174.00,375.98L174.50,378.08L175.00,380.21L175.50,382.34L176.00,384.49L176.50,386.63L177.00,388.77L177.50,390.89L178.00,392.99L178.50,395.05L179.00,397.09L179.50,399.11L180.00,401.09L180.50,403.06L181.00,405.01L181.50,406.94L182.00,408.86L182.50,410.78L183.00,412.68L183.50,414.58L184.00,416.48L184.50,418.38L185.00,420.29L185.50,422.22L186.00,424.19L186.50,426.22L187.00,428.31L187.50,430.49L188.00,432.78L188.50,435.17L189.00,437.63L189.50,440.08L190.00,442.48L190.50,444.77L191.00,446.88L191.50,448.76L192.00,450.43L192.50,451.91L193.00,453.24L193.50,454.46L194.00,455.60L194.50,456.70L195.00,457.78L195.50,458.89L196.00,460.06L196.50,461.32L197.00,462.72L197.50,464.27L198.00,466.03L198.50,468.01L199.00,470.27L199.50,473.01L200.00,477.86L200.50,487.03L201.00,502.78" stroke="#1a1aff" stroke-width="1.65" fill="none" stroke-linejoin="round" stroke-linecap="butt" />
<text class="t" x="40.25" y="317.55" font-size="8.6" fill="#262626">0</text>
<text class="t" x="25.04" y="322.21" font-size="13.2" fill="#262626" textLength="13.94" lengthAdjust="spacingAndGlyphs">10</text>
<text class="t" x="40.34" y="348.53" font-size="8.6" fill="#262626">1</text>
<path d="M33.86,345.78H39.19" stroke="#262626" stroke-width="0.9"/>
<text class="t" x="18.66" y="353.19" font-size="13.2" fill="#262626" textLength="13.94" lengthAdjust="spacingAndGlyphs">10</text>
<text class="t" x="40.35" y="379.51" font-size="8.6" fill="#262626">2</text>
<path d="M33.65,376.76H38.98" stroke="#262626" stroke-width="0.9"/>
<text class="t" x="18.45" y="384.17" font-size="13.2" fill="#262626" textLength="13.94" lengthAdjust="spacingAndGlyphs">10</text>
<text class="t" x="40.30" y="410.49" font-size="8.6" fill="#262626">3</text>
<path d="M33.49,407.74H38.82" stroke="#262626" stroke-width="0.9"/>
<text class="t" x="18.29" y="415.15" font-size="13.2" fill="#262626" textLength="13.94" lengthAdjust="spacingAndGlyphs">10</text>
<text class="t" x="40.17" y="441.47" font-size="8.6" fill="#262626">4</text>
<path d="M33.23,438.72H38.57" stroke="#262626" stroke-width="0.9"/>
<text class="t" x="18.04" y="446.13" font-size="13.2" fill="#262626" textLength="13.94" lengthAdjust="spacingAndGlyphs">10</text>
<text class="t" x="40.28" y="472.45" font-size="8.6" fill="#262626">5</text>
<path d="M33.49,469.70H38.82" stroke="#262626" stroke-width="0.9"/>
<text class="t" x="18.29" y="477.11" font-size="13.2" fill="#262626" textLength="13.94" lengthAdjust="spacingAndGlyphs">10</text>
<text class="t" x="40.30" y="503.43" font-size="8.6" fill="#262626">6</text>
<path d="M33.60,500.68H38.94" stroke="#262626" stroke-width="0.9"/>
<text class="t" x="18.41" y="508.09" font-size="13.2" fill="#262626" textLength="13.94" lengthAdjust="spacingAndGlyphs">10</text>
<text class="t" x="51.20" y="517.90" font-size="13.4" text-anchor="middle" fill="#262626">−10</text>
<text class="t" x="99.75" y="517.90" font-size="13.4" text-anchor="middle" fill="#262626">−5</text>
<text class="t" x="148.30" y="517.90" font-size="13.4" text-anchor="middle" fill="#262626">0</text>
<text class="t" x="196.85" y="517.90" font-size="13.4" text-anchor="middle" fill="#262626">5</text>
<text class="t" x="245.40" y="517.90" font-size="13.4" text-anchor="middle" fill="#262626">10</text>
<text class="t" x="148.30" y="532.80" font-size="13.2" text-anchor="middle" font-weight="normal" fill="#262626" textLength="120.4" lengthAdjust="spacingAndGlyphs">Standard Deviations</text>
<text class="t" x="0.00" y="0.00" font-size="12.8" text-anchor="middle" font-weight="normal" fill="#262626" transform="translate(9.9,396.25) rotate(-90)" textLength="111.5" lengthAdjust="spacingAndGlyphs">Probability Density</text>
<text x="0.00" y="0.00" font-size="29" text-anchor="start" font-weight="bold" fill="#000" transform="translate(13.0,290.1) scale(0.77,1)" stroke="#000" stroke-width="0.7">C</text>
<path d="M331.90,501.08L332.33,497.98L332.75,494.92L333.18,491.88L333.60,488.86L334.03,485.88L334.45,482.92L334.88,479.99L335.30,477.09L335.73,474.21L336.15,471.36L336.58,468.54L337.01,465.74L337.43,462.97L337.86,460.23L338.28,457.52L338.71,454.83L339.13,452.17L339.56,449.54L339.98,446.93L340.41,444.35L340.83,441.80L341.26,439.28L341.68,436.78L342.11,434.31L342.54,431.86L342.96,429.45L343.39,427.06L343.81,424.70L344.24,422.36L344.66,420.06L345.09,417.78L345.51,415.52L345.94,413.30L346.36,411.10L346.79,408.92L347.22,406.78L347.64,404.66L348.07,402.57L348.49,400.51L348.92,398.47L349.34,396.46L349.77,394.48L350.19,392.52L350.62,390.60L351.04,388.70L351.47,386.82L351.89,384.97L352.32,383.15L352.75,381.36L353.17,379.60L353.60,377.86L354.02,376.15L354.45,374.46L354.87,372.81L355.30,371.18L355.72,369.57L356.15,368.00L356.57,366.45L357.00,364.93" stroke="#ffa500" stroke-width="1.65" fill="none" stroke-linejoin="round" stroke-linecap="butt" stroke-dasharray="5.5 2.4"/>
<path d="M405.00,367.37L405.43,368.94L405.85,370.54L406.28,372.17L406.71,373.82L407.14,375.50L407.56,377.21L407.99,378.94L408.42,380.71L408.84,382.50L409.27,384.31L409.70,386.16L410.13,388.03L410.55,389.93L410.98,391.85L411.41,393.81L411.83,395.79L412.26,397.80L412.69,399.83L413.12,401.90L413.54,403.99L413.97,406.10L414.40,408.25L414.82,410.42L415.25,412.62L415.68,414.85L416.11,417.10L416.53,419.38L416.96,421.69L417.39,424.03L417.81,426.39L418.24,428.78L418.67,431.20L419.09,433.65L419.52,436.12L419.95,438.62L420.38,441.15L420.80,443.70L421.23,446.28L421.66,448.89L422.08,451.53L422.51,454.19L422.94,456.88L423.37,459.60L423.79,462.35L424.22,465.12L424.65,467.92L425.07,470.75L425.50,473.61L425.93,476.49L426.36,479.40L426.78,482.34L427.21,485.30L427.64,488.29L428.06,491.31L428.49,494.36L428.92,497.43L429.35,500.54L429.77,503.66L430.20,506.82" stroke="#ffa500" stroke-width="1.65" fill="none" stroke-linejoin="round" stroke-linecap="butt" stroke-dasharray="5.5 2.4"/>
<path d="M317.70,503.50L318.50,485.80L319.40,474.00L321.10,467.30L323.60,463.90L325.30,455.50L328.70,448.70L332.90,435.20L336.30,424.93L336.80,423.51L337.30,422.09L337.80,420.64L338.30,419.18L338.80,417.71L339.30,416.22L339.80,414.72L340.30,413.20L340.80,411.68L341.30,410.14L341.80,408.59L342.30,407.03L342.80,405.47L343.30,403.89L343.80,402.31L344.30,400.72L344.80,399.13L345.30,397.53L345.80,395.92L346.30,394.31L346.80,392.69L347.30,391.08L347.80,389.46L348.30,387.84L348.80,386.22L349.30,384.60L349.80,382.98L350.30,381.36L350.80,379.74L351.30,378.12L351.80,376.51L352.30,374.91L352.80,373.31L353.30,371.71L353.80,370.12L354.30,368.55L354.80,366.98L355.30,365.43L355.80,363.89L356.30,362.36L356.80,360.85L357.30,359.36L357.80,357.89L358.30,356.44L358.80,355.01L359.30,353.60L359.80,352.22L360.30,350.86L360.80,349.53L361.30,348.23L361.80,346.96L362.30,345.72L362.80,344.52L363.30,343.34L363.80,342.20L364.30,341.09L364.80,340.02L365.30,338.97L365.80,337.96L366.30,336.99L366.80,336.04L367.30,335.13L367.80,334.25L368.30,333.40L368.80,332.59L369.30,331.81L369.80,331.06L370.30,330.35L370.80,329.66L371.30,329.01L371.80,328.40L372.30,327.81L372.80,327.26L373.30,326.74L373.80,326.26L374.30,325.80L374.80,325.38L375.30,325.00L375.80,324.64L376.30,324.32L376.80,324.03L377.30,323.77L377.80,323.55L378.30,323.36L378.80,323.20L379.30,323.08L379.80,322.99L380.30,322.94L380.80,322.92L381.30,322.93L381.80,322.98L382.30,323.07L382.80,323.19L383.30,323.35L383.80,323.54L384.30,323.77L384.80,324.03L385.30,324.34L385.80,324.68L386.30,325.05L386.80,325.47L387.30,325.92L387.80,326.41L388.30,326.94L388.80,327.50L389.30,328.11L389.80,328.74L390.30,329.41L390.80,330.11L391.30,330.84L391.80,331.60L392.30,332.38L392.80,333.18L393.30,334.01L393.80,334.87L394.30,335.74L394.80,336.62L395.30,337.53L395.80,338.45L396.30,339.39L396.80,340.35L397.30,341.34L397.80,342.37L398.30,343.44L398.80,344.55L399.30,345.73L399.80,346.96L400.30,348.27L400.80,349.64L401.30,351.10L401.80,352.64L402.30,354.26L402.80,355.96L403.30,357.72L403.80,359.52L404.30,361.37L404.80,363.24L405.30,365.12L405.80,367.00L406.30,368.87L406.80,370.72L407.30,372.53L407.80,374.29L408.30,376.00L408.80,377.67L409.30,379.30L409.80,380.90L410.30,382.47L410.80,384.03L411.30,385.58L411.80,387.13L412.30,388.68L412.80,390.25L413.30,391.85L413.80,393.49L414.30,395.20L414.80,396.98L415.30,398.85L415.80,400.82L416.30,402.91L416.80,405.10L417.30,407.33L417.80,409.55L418.30,411.70L418.80,413.73L419.30,415.60L419.80,417.29L420.30,418.86L420.80,420.36L421.30,421.85L421.80,423.39L422.30,425.03L422.80,426.83L423.30,428.78L423.80,430.85L424.30,433.03L424.80,435.28L425.30,437.58L425.80,439.91L426.30,442.23L426.80,444.53L427.30,446.78L427.80,448.95L428.30,451.02L428.80,452.96L429.30,454.76L429.80,457.35L430.00,459.30L432.50,459.70L434.20,458.00L435.10,463.90L436.80,470.60L439.30,472.30L439.30,503.50" stroke="#282828" stroke-width="1.65" fill="none" stroke-linejoin="round" stroke-linecap="butt" />
<path d="M295.00,503.50L296.00,496.90L298.10,492.80L300.00,489.20L302.50,484.10L305.90,477.40L308.40,475.70L310.10,471.50L312.60,470.60L316.90,462.20L321.90,453.80L327.00,442.04L327.50,440.91L328.00,439.76L328.50,438.59L329.00,437.40L329.50,436.20L330.00,434.98L330.50,433.75L331.00,432.52L331.50,431.27L332.00,430.02L332.50,428.77L333.00,427.51L333.50,426.25L334.00,424.99L334.50,423.74L335.00,422.49L335.50,421.25L336.00,420.02L336.50,418.79L337.00,417.59L337.50,416.39L338.00,415.21L338.50,414.05L339.00,412.89L339.50,411.74L340.00,410.59L340.50,409.43L341.00,408.26L341.50,407.06L342.00,405.84L342.50,404.59L343.00,403.29L343.50,401.97L344.00,400.61L344.50,399.23L345.00,397.81L345.50,396.38L346.00,394.92L346.50,393.45L347.00,391.96L347.50,390.46L348.00,388.95L348.50,387.42L349.00,385.90L349.50,384.36L350.00,382.82L350.50,381.28L351.00,379.74L351.50,378.20L352.00,376.67L352.50,375.13L353.00,373.61L353.50,372.09L354.00,370.58L354.50,369.07L355.00,367.59L355.50,366.11L356.00,364.65L356.50,363.21L357.00,361.79L357.50,360.39L358.00,359.01L358.50,357.65L359.00,356.32L359.50,355.02L360.00,353.74L360.50,352.50L361.00,351.28L361.50,350.10L362.00,348.94L362.50,347.80L363.00,346.69L363.50,345.60L364.00,344.52L364.50,343.47L365.00,342.43L365.50,341.40L366.00,340.39L366.50,339.39L367.00,338.39L367.50,337.41L368.00,336.45L368.50,335.51L369.00,334.58L369.50,333.68L370.00,332.81L370.50,331.97L371.00,331.15L371.50,330.38L372.00,329.64L372.50,328.94L373.00,328.28L373.50,327.67L374.00,327.11L374.50,326.60L375.00,326.13L375.50,325.71L376.00,325.34L376.50,325.01L377.00,324.73L377.50,324.49L378.00,324.29L378.50,324.14L379.00,324.02L379.50,323.95L380.00,323.91L380.50,323.91L381.00,323.95L381.50,324.02L382.00,324.13L382.50,324.27L383.00,324.44L383.50,324.65L384.00,324.89L384.50,325.15L385.00,325.45L385.50,325.78L386.00,326.14L386.50,326.53L387.00,326.95L387.50,327.41L388.00,327.90L388.50,328.41L389.00,328.97L389.50,329.55L390.00,330.17L390.50,330.82L391.00,331.50L391.50,332.21L392.00,332.96L392.50,333.75L393.00,334.57L393.50,335.42L394.00,336.31L394.50,337.23L395.00,338.18L395.50,339.18L396.00,340.20L396.50,341.27L397.00,342.37L397.50,343.50L398.00,344.67L398.50,345.88L399.00,347.13L399.50,348.41L400.00,349.72L400.50,351.07L401.00,352.45L401.50,353.86L402.00,355.30L402.50,356.76L403.00,358.25L403.50,359.75L404.00,361.28L404.50,362.83L405.00,364.39L405.50,365.97L406.00,367.56L406.50,369.16L407.00,370.77L407.50,372.38L408.00,374.01L408.50,375.63L409.00,377.26L409.50,378.89L410.00,380.53L410.50,382.17L411.00,383.81L411.50,385.45L412.00,387.09L412.50,388.74L413.00,390.38L413.50,392.03L414.00,393.68L414.50,395.32L415.00,396.97L415.50,398.61L416.00,400.25L416.50,401.89L417.00,403.53L417.50,405.17L418.00,406.80L418.50,408.44L419.00,410.06L419.50,411.69L420.00,413.31L420.50,414.92L421.00,416.53L421.50,418.14L422.00,419.74L422.50,421.34L423.00,422.92L423.50,424.51L424.00,426.08L424.50,427.65L425.00,429.22L425.50,430.77L426.00,432.32L426.50,433.86L427.00,435.39L427.50,436.91L428.00,438.43L428.50,439.93L429.00,441.43L429.50,442.91L430.00,444.39L430.50,445.85L431.00,447.31L431.50,448.75L432.00,450.19L432.50,451.61L433.00,453.02L433.50,454.41L434.00,455.80L434.50,457.17L435.00,458.53L435.10,458.80L437.60,467.30L440.10,470.60L443.50,472.30L446.90,474.00L450.30,482.50L455.30,490.00L458.70,482.50L462.90,487.60L465.90,488.40L470.40,491.40L473.40,500.40L474.90,495.90L477.10,503.50" stroke="#9acd32" stroke-width="1.65" fill="none" stroke-linejoin="round" stroke-linecap="butt" />
<text class="t" x="273.84" y="290.45" font-size="8.6" fill="#262626">1</text>
<text class="t" x="258.95" y="295.11" font-size="13.2" fill="#262626" textLength="13.94" lengthAdjust="spacingAndGlyphs">10</text>
<text class="t" x="273.75" y="320.85" font-size="8.6" fill="#262626">0</text>
<text class="t" x="258.54" y="325.51" font-size="13.2" fill="#262626" textLength="13.94" lengthAdjust="spacingAndGlyphs">10</text>
<text class="t" x="273.84" y="351.25" font-size="8.6" fill="#262626">1</text>
<path d="M267.36,348.50H272.69" stroke="#262626" stroke-width="0.9"/>
<text class="t" x="252.16" y="355.91" font-size="13.2" fill="#262626" textLength="13.94" lengthAdjust="spacingAndGlyphs">10</text>
<text class="t" x="273.85" y="381.65" font-size="8.6" fill="#262626">2</text>
<path d="M267.15,378.90H272.48" stroke="#262626" stroke-width="0.9"/>
<text class="t" x="251.95" y="386.31" font-size="13.2" fill="#262626" textLength="13.94" lengthAdjust="spacingAndGlyphs">10</text>
<text class="t" x="273.80" y="412.05" font-size="8.6" fill="#262626">3</text>
<path d="M266.99,409.30H272.32" stroke="#262626" stroke-width="0.9"/>
<text class="t" x="251.79" y="416.71" font-size="13.2" fill="#262626" textLength="13.94" lengthAdjust="spacingAndGlyphs">10</text>
<text class="t" x="273.67" y="442.45" font-size="8.6" fill="#262626">4</text>
<path d="M266.73,439.70H272.07" stroke="#262626" stroke-width="0.9"/>
<text class="t" x="251.54" y="447.11" font-size="13.2" fill="#262626" textLength="13.94" lengthAdjust="spacingAndGlyphs">10</text>
<text class="t" x="273.78" y="472.85" font-size="8.6" fill="#262626">5</text>
<path d="M266.99,470.10H272.32" stroke="#262626" stroke-width="0.9"/>
<text class="t" x="251.79" y="477.51" font-size="13.2" fill="#262626" textLength="13.94" lengthAdjust="spacingAndGlyphs">10</text>
<text class="t" x="273.80" y="503.25" font-size="8.6" fill="#262626">6</text>
<path d="M267.10,500.50H272.44" stroke="#262626" stroke-width="0.9"/>
<text class="t" x="251.91" y="507.91" font-size="13.2" fill="#262626" textLength="13.94" lengthAdjust="spacingAndGlyphs">10</text>
<text class="t" x="284.70" y="517.90" font-size="13.4" text-anchor="middle" fill="#262626">−10</text>
<text class="t" x="333.15" y="517.90" font-size="13.4" text-anchor="middle" fill="#262626">−5</text>
<text class="t" x="381.60" y="517.90" font-size="13.4" text-anchor="middle" fill="#262626">0</text>
<text class="t" x="430.05" y="517.90" font-size="13.4" text-anchor="middle" fill="#262626">5</text>
<text class="t" x="478.50" y="517.90" font-size="13.4" text-anchor="middle" fill="#262626">10</text>
<text class="t" x="381.60" y="533.00" font-size="13.2" text-anchor="middle" font-weight="normal" fill="#262626" textLength="120.6" lengthAdjust="spacingAndGlyphs">Standard Deviations</text>
<text class="t" x="0.00" y="0.00" font-size="12.8" text-anchor="middle" font-weight="normal" fill="#262626" transform="translate(243.7,396.25) rotate(-90)" textLength="111.5" lengthAdjust="spacingAndGlyphs">Probability Density</text>
<path d="M569.40,503.16L569.86,499.63L570.32,496.13L570.78,492.67L571.24,489.24L571.70,485.85L572.16,482.50L572.62,479.18L573.07,475.90L573.53,472.66L573.99,469.45L574.45,466.28L574.91,463.15L575.37,460.05L575.83,456.99L576.29,453.97L576.75,450.98L577.21,448.03L577.67,445.12L578.13,442.24L578.59,439.40L579.05,436.59L579.51,433.82L579.96,431.09L580.42,428.40L580.88,425.74L581.34,423.12L581.80,420.53L582.26,417.98L582.72,415.47L583.18,412.99L583.64,410.56L584.10,408.15L584.56,405.79L585.02,403.46L585.48,401.16L585.94,398.91L586.39,396.69L586.85,394.50L587.31,392.36L587.77,390.25L588.23,388.17L588.69,386.14L589.15,384.14L589.61,382.17L590.07,380.24L590.53,378.35L590.99,376.50L591.45,374.68L591.91,372.90L592.37,371.15L592.83,369.45L593.28,367.77L593.74,366.14L594.20,364.54L594.66,362.98L595.12,361.45L595.58,359.96L596.04,358.51L596.50,357.09" stroke="#ffa500" stroke-width="1.65" fill="none" stroke-linejoin="round" stroke-linecap="butt" stroke-dasharray="5.5 2.4"/>
<path d="M632.00,358.20L632.46,359.63L632.91,361.10L633.37,362.61L633.82,364.15L634.28,365.73L634.74,367.34L635.19,368.99L635.65,370.68L636.10,372.40L636.56,374.16L637.02,375.95L637.47,377.78L637.93,379.65L638.38,381.55L638.84,383.49L639.29,385.46L639.75,387.47L640.21,389.52L640.66,391.60L641.12,393.72L641.57,395.87L642.03,398.06L642.49,400.29L642.94,402.55L643.40,404.85L643.85,407.18L644.31,409.55L644.77,411.96L645.22,414.40L645.68,416.88L646.13,419.39L646.59,421.94L647.05,424.53L647.50,427.15L647.96,429.81L648.41,432.50L648.87,435.23L649.33,438.00L649.78,440.80L650.24,443.64L650.69,446.51L651.15,449.42L651.61,452.37L652.06,455.35L652.52,458.37L652.97,461.42L653.43,464.51L653.88,467.64L654.34,470.80L654.80,474.00L655.25,477.23L655.71,480.50L656.16,483.81L656.62,487.15L657.08,490.53L657.53,493.94L657.99,497.39L658.44,500.88L658.90,504.40" stroke="#ffa500" stroke-width="1.65" fill="none" stroke-linejoin="round" stroke-linecap="butt" stroke-dasharray="5.5 2.4"/>
<path d="M517.80,471.50L520.80,468.00L525.00,461.60L527.80,460.20L530.00,459.50L531.40,458.10L533.50,458.80L535.60,454.60L537.70,451.10L539.80,449.70L542.60,444.10L544.70,439.10L547.50,435.60L550.30,432.80L553.40,429.12L553.90,428.30L554.40,427.49L554.90,426.69L555.40,425.90L555.90,425.13L556.40,424.36L556.90,423.60L557.40,422.85L557.90,422.11L558.40,421.37L558.90,420.65L559.40,419.94L559.90,419.24L560.40,418.55L560.90,417.87L561.40,417.20L561.90,416.53L562.40,415.88L562.90,415.24L563.40,414.61L563.90,413.98L564.40,413.37L564.90,412.77L565.40,412.17L565.90,411.59L566.40,411.02L566.90,410.45L567.40,409.90L567.90,409.35L568.40,408.81L568.90,408.28L569.40,407.75L569.90,407.21L570.40,406.68L570.90,406.15L571.40,405.61L571.90,405.06L572.40,404.51L572.90,403.95L573.40,403.37L573.90,402.78L574.40,402.18L574.90,401.56L575.40,400.92L575.90,400.26L576.40,399.58L576.90,398.88L577.40,398.15L577.90,397.39L578.40,396.61L578.90,395.80L579.40,394.96L579.90,394.09L580.40,393.20L580.90,392.28L581.40,391.33L581.90,390.35L582.40,389.34L582.90,388.30L583.40,387.24L583.90,386.14L584.40,385.01L584.90,383.85L585.40,382.66L585.90,381.44L586.40,380.19L586.90,378.91L587.40,377.60L587.90,376.28L588.40,374.94L588.90,373.58L589.40,372.22L589.90,370.84L590.40,369.46L590.90,368.07L591.40,366.69L591.90,365.30L592.40,363.93L592.90,362.56L593.40,361.21L593.90,359.87L594.40,358.55L594.90,357.24L595.40,355.96L595.90,354.70L596.40,353.46L596.90,352.24L597.40,351.04L597.90,349.86L598.40,348.71L598.90,347.59L599.40,346.49L599.90,345.41L600.40,344.36L600.90,343.35L601.40,342.36L601.90,341.40L602.40,340.47L602.90,339.57L603.40,338.70L603.90,337.87L604.40,337.06L604.90,336.30L605.40,335.57L605.90,334.87L606.40,334.21L606.90,333.59L607.40,333.01L607.90,332.46L608.40,331.96L608.90,331.49L609.40,331.06L609.90,330.67L610.40,330.32L610.90,330.02L611.40,329.75L611.90,329.52L612.40,329.33L612.90,329.19L613.40,329.08L613.90,329.02L614.40,329.00L614.90,329.02L615.40,329.09L615.90,329.19L616.40,329.34L616.90,329.54L617.40,329.77L617.90,330.05L618.40,330.38L618.90,330.75L619.40,331.16L619.90,331.62L620.40,332.11L620.90,332.65L621.40,333.24L621.90,333.86L622.40,334.52L622.90,335.22L623.40,335.96L623.90,336.74L624.40,337.56L624.90,338.42L625.40,339.31L625.90,340.24L626.40,341.20L626.90,342.20L627.40,343.23L627.90,344.30L628.40,345.40L628.90,346.53L629.40,347.70L629.90,348.89L630.40,350.12L630.90,351.38L631.40,352.66L631.90,353.98L632.40,355.32L632.90,356.70L633.40,358.09L633.90,359.50L634.40,360.93L634.90,362.36L635.40,363.80L635.90,365.23L636.40,366.66L636.90,368.08L637.40,369.48L637.90,370.85L638.40,372.20L638.90,373.52L639.40,374.80L639.90,376.04L640.40,377.23L640.90,378.39L641.40,379.50L641.90,380.58L642.40,381.62L642.90,382.64L643.40,383.63L643.90,384.59L644.40,385.54L644.90,386.47L645.40,387.38L645.90,388.29L646.40,389.18L646.90,390.07L647.40,390.94L647.90,391.81L648.40,392.67L648.90,393.52L649.40,394.36L649.90,395.20L650.40,396.02L650.90,396.84L651.40,397.66L651.90,398.46L652.40,399.26L652.90,400.05L653.40,400.84L653.90,401.62L654.40,402.39L654.90,403.16L655.40,403.93L655.90,404.69L656.40,405.44L656.90,406.19L657.40,406.94L657.90,407.68L658.40,408.42L658.90,409.16L659.40,409.89L659.90,410.62L660.40,411.35L660.90,412.07L661.40,412.80L661.90,413.52L662.40,414.24L662.90,414.96L663.40,415.67L663.90,416.39L664.40,417.11L664.90,417.82L665.40,418.54L665.90,419.26L666.40,419.97L666.90,420.69L667.40,421.41L667.90,422.13L668.40,422.85L668.90,423.57L669.40,424.30L669.90,425.03L670.40,425.77L670.90,426.52L671.40,427.27L671.90,428.04L672.40,428.82L672.90,429.61L673.40,430.41L673.90,431.24L674.40,432.08L674.90,432.94L675.40,433.82L675.90,434.72L676.40,435.64L676.90,436.59L677.40,437.57L677.90,438.57L678.40,439.60L678.50,439.81L681.40,444.20L684.40,452.50L688.90,461.40L693.40,462.90L696.30,469.70L699.30,471.90L702.30,477.90L704.60,483.90L706.10,495.10L708.30,495.90L710.60,493.60" stroke="#ff1a1a" stroke-width="1.65" fill="none" stroke-linejoin="round" stroke-linecap="butt" />
<path d="M532.00,503.50L532.80,498.90L534.20,498.90L535.60,496.10L538.40,489.10L540.50,484.10L542.60,484.10L544.00,482.00L547.50,476.40L550.30,471.50L553.90,467.30L557.40,456.70L560.50,448.00L562.50,442.00L563.00,441.69L563.50,441.28L564.00,440.76L564.50,440.15L565.00,439.45L565.50,438.67L566.00,437.81L566.50,436.87L567.00,435.87L567.50,434.80L568.00,433.68L568.50,432.51L569.00,431.30L569.50,430.04L570.00,428.75L570.50,427.44L571.00,426.10L571.50,424.74L572.00,423.37L572.50,422.00L573.00,420.62L573.50,419.25L574.00,417.89L574.50,416.55L575.00,415.21L575.50,413.87L576.00,412.54L576.50,411.21L577.00,409.88L577.50,408.55L578.00,407.22L578.50,405.87L579.00,404.52L579.50,403.16L580.00,401.79L580.50,400.40L581.00,399.00L581.50,397.57L582.00,396.13L582.50,394.66L583.00,393.16L583.50,391.64L584.00,390.09L584.50,388.51L585.00,386.91L585.50,385.29L586.00,383.65L586.50,381.99L587.00,380.33L587.50,378.65L588.00,376.98L588.50,375.30L589.00,373.63L589.50,371.97L590.00,370.32L590.50,368.69L591.00,367.07L591.50,365.47L592.00,363.90L592.50,362.36L593.00,360.85L593.50,359.38L594.00,357.95L594.50,356.55L595.00,355.20L595.50,353.87L596.00,352.59L596.50,351.34L597.00,350.13L597.50,348.96L598.00,347.82L598.50,346.72L599.00,345.66L599.50,344.63L600.00,343.64L600.50,342.69L601.00,341.77L601.50,340.88L602.00,340.03L602.50,339.22L603.00,338.44L603.50,337.70L604.00,336.99L604.50,336.32L605.00,335.68L605.50,335.07L606.00,334.50L606.50,333.97L607.00,333.47L607.50,333.00L608.00,332.56L608.50,332.16L609.00,331.80L609.50,331.46L610.00,331.16L610.50,330.89L611.00,330.66L611.50,330.46L612.00,330.29L612.50,330.15L613.00,330.04L613.50,329.97L614.00,329.93L614.50,329.92L615.00,329.94L615.50,330.00L616.00,330.09L616.50,330.21L617.00,330.37L617.50,330.57L618.00,330.80L618.50,331.06L619.00,331.37L619.50,331.71L620.00,332.09L620.50,332.50L621.00,332.96L621.50,333.46L622.00,333.99L622.50,334.57L623.00,335.19L623.50,335.85L624.00,336.55L624.50,337.30L625.00,338.09L625.50,338.92L626.00,339.80L626.50,340.72L627.00,341.69L627.50,342.70L628.00,343.75L628.50,344.83L629.00,345.95L629.50,347.11L630.00,348.29L630.50,349.50L631.00,350.74L631.50,352.01L632.00,353.29L632.50,354.59L633.00,355.91L633.50,357.25L634.00,358.60L634.50,359.96L635.00,361.33L635.50,362.71L636.00,364.09L636.50,365.49L637.00,366.89L637.50,368.29L638.00,369.71L638.50,371.13L639.00,372.56L639.50,373.99L640.00,375.43L640.50,376.87L641.00,378.32L641.50,379.77L642.00,381.23L642.50,382.69L643.00,384.15L643.50,385.62L644.00,387.09L644.50,388.56L645.00,390.03L645.50,391.51L646.00,392.99L646.50,394.47L647.00,395.95L647.50,397.43L648.00,398.91L648.50,400.39L649.00,401.87L649.50,403.35L650.00,404.83L650.50,406.31L651.00,407.78L651.50,409.26L652.00,410.73L652.50,412.20L653.00,413.66L653.50,415.13L654.00,416.59L654.50,418.04L655.00,419.50L655.50,420.96L656.00,422.43L656.50,423.91L657.00,425.41L657.50,426.92L658.00,428.46L658.50,430.03L659.00,431.62L659.50,433.25L660.00,434.92L660.50,436.62L661.00,438.38L661.50,440.18L662.00,442.03L662.50,443.94L663.00,445.91L663.50,447.95L664.00,450.05L664.50,452.19L665.00,454.28L665.50,456.21L666.00,457.88L666.50,459.19L667.00,460.03L667.50,460.30L667.90,460.03L672.40,473.40L676.10,483.90L676.90,489.10L679.10,489.10L680.60,485.40L682.90,489.10L684.40,486.90L685.90,493.60L688.10,494.40L688.90,493.60L690.40,503.50" stroke="#2e8b57" stroke-width="1.65" fill="none" stroke-linejoin="round" stroke-linecap="butt" />
<text class="t" x="506.94" y="298.05" font-size="8.6" fill="#262626">1</text>
<text class="t" x="492.05" y="302.71" font-size="13.2" fill="#262626" textLength="13.94" lengthAdjust="spacingAndGlyphs">10</text>
<text class="t" x="506.85" y="327.25" font-size="8.6" fill="#262626">0</text>
<text class="t" x="491.64" y="331.91" font-size="13.2" fill="#262626" textLength="13.94" lengthAdjust="spacingAndGlyphs">10</text>
<text class="t" x="506.94" y="356.45" font-size="8.6" fill="#262626">1</text>
<path d="M500.46,353.70H505.79" stroke="#262626" stroke-width="0.9"/>
<text class="t" x="485.26" y="361.11" font-size="13.2" fill="#262626" textLength="13.94" lengthAdjust="spacingAndGlyphs">10</text>
<text class="t" x="506.95" y="385.65" font-size="8.6" fill="#262626">2</text>
<path d="M500.25,382.90H505.58" stroke="#262626" stroke-width="0.9"/>
<text class="t" x="485.05" y="390.31" font-size="13.2" fill="#262626" textLength="13.94" lengthAdjust="spacingAndGlyphs">10</text>
<text class="t" x="506.90" y="414.85" font-size="8.6" fill="#262626">3</text>
<path d="M500.09,412.10H505.42" stroke="#262626" stroke-width="0.9"/>
<text class="t" x="484.89" y="419.51" font-size="13.2" fill="#262626" textLength="13.94" lengthAdjust="spacingAndGlyphs">10</text>
<text class="t" x="506.77" y="444.05" font-size="8.6" fill="#262626">4</text>
<path d="M499.83,441.30H505.17" stroke="#262626" stroke-width="0.9"/>
<text class="t" x="484.64" y="448.71" font-size="13.2" fill="#262626" textLength="13.94" lengthAdjust="spacingAndGlyphs">10</text>
<text class="t" x="506.88" y="473.25" font-size="8.6" fill="#262626">5</text>
<path d="M500.09,470.50H505.42" stroke="#262626" stroke-width="0.9"/>
<text class="t" x="484.89" y="477.91" font-size="13.2" fill="#262626" textLength="13.94" lengthAdjust="spacingAndGlyphs">10</text>
<text class="t" x="506.90" y="502.45" font-size="8.6" fill="#262626">6</text>
<path d="M500.20,499.70H505.54" stroke="#262626" stroke-width="0.9"/>
<text class="t" x="485.01" y="507.11" font-size="13.2" fill="#262626" textLength="13.94" lengthAdjust="spacingAndGlyphs">10</text>
<text class="t" x="517.80" y="517.90" font-size="13.4" text-anchor="middle" fill="#262626">−10</text>
<text class="t" x="566.40" y="517.90" font-size="13.4" text-anchor="middle" fill="#262626">−5</text>
<text class="t" x="615.00" y="517.90" font-size="13.4" text-anchor="middle" fill="#262626">0</text>
<text class="t" x="663.60" y="517.90" font-size="13.4" text-anchor="middle" fill="#262626">5</text>
<text class="t" x="712.20" y="517.90" font-size="13.4" text-anchor="middle" fill="#262626">10</text>
<text class="t" x="614.30" y="532.70" font-size="13.2" text-anchor="middle" font-weight="normal" fill="#262626" textLength="120.2" lengthAdjust="spacingAndGlyphs">Standard Deviations</text>
<text class="t" x="0.00" y="0.00" font-size="12.8" text-anchor="middle" font-weight="normal" fill="#262626" transform="translate(476.7,396.25) rotate(-90)" textLength="111.5" lengthAdjust="spacingAndGlyphs">Probability Density</text>
<defs>
<clipPath id="clipA"><rect x="65.5" y="-3.0" width="237.10000000000002" height="235.0"/></clipPath>
<clipPath id="clipB"><rect x="399.8" y="6.9" width="228.40000000000003" height="227.4"/></clipPath>
</defs>
</svg></body></html>
